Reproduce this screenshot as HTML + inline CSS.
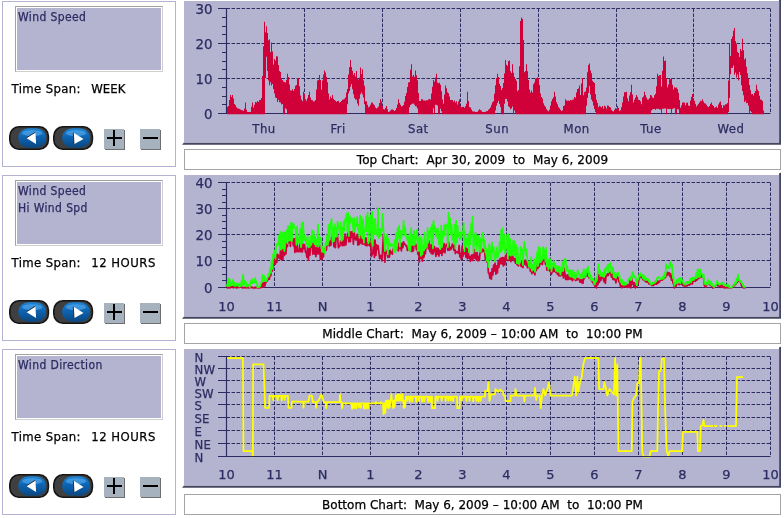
<!DOCTYPE html>
<html lang="en"><head><meta charset="utf-8"><title>Wind Charts</title>
<style>
html,body{margin:0;padding:0;background:#fff;}
body{-webkit-text-stroke:0.25px;width:784px;height:518px;position:relative;overflow:hidden;font-family:"DejaVu Sans","Liberation Sans",sans-serif;}
.lp{position:absolute;left:2px;width:172px;height:164px;border:1px solid #b2b2d2;background:#fff;}
.tb{position:absolute;left:12px;top:4px;width:144px;height:62px;background:#b4b4d0;border:1px solid #a2a2a2;box-shadow:inset 1px 1px 0 #fff, inset -1px -1px 0 #fff;border-right-color:#cfcfcf;border-bottom-color:#cfcfcf;color:#2c2c62;font:12px "DejaVu Sans Condensed","Liberation Sans",sans-serif;letter-spacing:0.38px;padding:2px 0 0 2px;line-height:17px;}
.tb div{height:17px;white-space:pre;}
.ts{position:absolute;left:8.6px;top:79px;font:13px "DejaVu Sans Condensed","Liberation Sans",sans-serif;color:#000;white-space:pre;line-height:16px;}
.tsl{position:absolute;left:0;top:0;letter-spacing:0.36px;}
.tsv{position:absolute;left:79.6px;top:0;letter-spacing:0.1px;}
.btn{position:absolute;}
.sq{position:absolute;top:127px;width:20px;height:20px;background:#a6b3bf;box-shadow:1px 1px 0 #6e6e6e;}
.sq i{position:absolute;background:#000;display:block;}
.sq .h{left:3px;top:8px;width:15px;height:2px;}
.sq .v{left:9px;top:1px;width:2px;height:16px;}
.cap{position:absolute;left:184px;width:595px;height:18px;padding-top:1px;border:1px solid #a4a4a4;background:#fff;text-align:center;font:12px "DejaVu Sans","Liberation Sans",sans-serif;color:#000;line-height:19px;white-space:pre;}
#charts{position:absolute;left:0;top:0;}
</style></head><body>
<svg width="0" height="0" style="position:absolute"><defs><linearGradient id="bg" x1="0" y1="0" x2="0" y2="1"><stop offset="0" stop-color="#1c86d8"/><stop offset="0.45" stop-color="#0d63b2"/><stop offset="1" stop-color="#0a477f"/></linearGradient></defs></svg>
<div class="lp" style="top:1px"><div class="tb"><div>Wind Speed</div></div><div class="ts"><span class="tsl">Time Span:</span><span class="tsv" style="letter-spacing:0.1px">WEEK</span></div><svg class="btn" style="left:6px;top:124px" width="42" height="26" viewBox="0 0 42 26"><rect x="0.8" y="0.8" width="38.6" height="22.4" rx="9" ry="9.5" fill="#3f3f3f" stroke="#151515" stroke-width="1.6"/><rect x="9.2" y="2.2" width="28" height="19.6" rx="10.5" ry="9.8" fill="url(#bg)"/><ellipse cx="23.2" cy="7.2" rx="10" ry="3" fill="#6ab8f5" opacity="0.5"/><path d="M17.3 11.9 L26.4 6.2 L27.1 18 Z" fill="#fff"/><path d="M17.3 11.9 L26.4 6.2" stroke="#102030" stroke-width="0.9" fill="none"/></svg><svg class="btn" style="left:50px;top:124px" width="42" height="26" viewBox="0 0 42 26"><rect x="0.8" y="0.8" width="38.6" height="22.4" rx="9" ry="9.5" fill="#3f3f3f" stroke="#151515" stroke-width="1.6"/><rect x="9" y="2.2" width="28" height="19.6" rx="10.5" ry="9.8" fill="url(#bg)"/><ellipse cx="23" cy="7.2" rx="10" ry="3" fill="#6ab8f5" opacity="0.5"/><path d="M20.3 6.5 L21 18.3 L30.5 12.9 Z" fill="#fff"/><path d="M20.3 6.5 L21 18.3" stroke="#102030" stroke-width="0.9" fill="none"/></svg><div class="sq" style="left:101px"><i class="h"></i><i class="v"></i></div><div class="sq" style="left:137px"><i class="h"></i></div></div>
<div class="lp" style="top:175px"><div class="tb"><div>Wind Speed</div><div>Hi Wind Spd</div></div><div class="ts"><span class="tsl">Time Span:</span><span class="tsv" style="letter-spacing:0.5px">12 HOURS</span></div><svg class="btn" style="left:6px;top:124px" width="42" height="26" viewBox="0 0 42 26"><rect x="0.8" y="0.8" width="38.6" height="22.4" rx="9" ry="9.5" fill="#3f3f3f" stroke="#151515" stroke-width="1.6"/><rect x="9.2" y="2.2" width="28" height="19.6" rx="10.5" ry="9.8" fill="url(#bg)"/><ellipse cx="23.2" cy="7.2" rx="10" ry="3" fill="#6ab8f5" opacity="0.5"/><path d="M17.3 11.9 L26.4 6.2 L27.1 18 Z" fill="#fff"/><path d="M17.3 11.9 L26.4 6.2" stroke="#102030" stroke-width="0.9" fill="none"/></svg><svg class="btn" style="left:50px;top:124px" width="42" height="26" viewBox="0 0 42 26"><rect x="0.8" y="0.8" width="38.6" height="22.4" rx="9" ry="9.5" fill="#3f3f3f" stroke="#151515" stroke-width="1.6"/><rect x="9" y="2.2" width="28" height="19.6" rx="10.5" ry="9.8" fill="url(#bg)"/><ellipse cx="23" cy="7.2" rx="10" ry="3" fill="#6ab8f5" opacity="0.5"/><path d="M20.3 6.5 L21 18.3 L30.5 12.9 Z" fill="#fff"/><path d="M20.3 6.5 L21 18.3" stroke="#102030" stroke-width="0.9" fill="none"/></svg><div class="sq" style="left:101px"><i class="h"></i><i class="v"></i></div><div class="sq" style="left:137px"><i class="h"></i></div></div>
<div class="lp" style="top:349px"><div class="tb"><div>Wind Direction</div></div><div class="ts"><span class="tsl">Time Span:</span><span class="tsv" style="letter-spacing:0.5px">12 HOURS</span></div><svg class="btn" style="left:6px;top:124px" width="42" height="26" viewBox="0 0 42 26"><rect x="0.8" y="0.8" width="38.6" height="22.4" rx="9" ry="9.5" fill="#3f3f3f" stroke="#151515" stroke-width="1.6"/><rect x="9.2" y="2.2" width="28" height="19.6" rx="10.5" ry="9.8" fill="url(#bg)"/><ellipse cx="23.2" cy="7.2" rx="10" ry="3" fill="#6ab8f5" opacity="0.5"/><path d="M17.3 11.9 L26.4 6.2 L27.1 18 Z" fill="#fff"/><path d="M17.3 11.9 L26.4 6.2" stroke="#102030" stroke-width="0.9" fill="none"/></svg><svg class="btn" style="left:50px;top:124px" width="42" height="26" viewBox="0 0 42 26"><rect x="0.8" y="0.8" width="38.6" height="22.4" rx="9" ry="9.5" fill="#3f3f3f" stroke="#151515" stroke-width="1.6"/><rect x="9" y="2.2" width="28" height="19.6" rx="10.5" ry="9.8" fill="url(#bg)"/><ellipse cx="23" cy="7.2" rx="10" ry="3" fill="#6ab8f5" opacity="0.5"/><path d="M20.3 6.5 L21 18.3 L30.5 12.9 Z" fill="#fff"/><path d="M20.3 6.5 L21 18.3" stroke="#102030" stroke-width="0.9" fill="none"/></svg><div class="sq" style="left:101px"><i class="h"></i><i class="v"></i></div><div class="sq" style="left:137px"><i class="h"></i></div></div>
<svg id="charts" width="784" height="518" viewBox="0 0 784 518">
<path d="M779 -0.5 L781 -1.5 L781 144.8 L182 144.8 L184 142.6 L779 142.6 Z" fill="#46465f"/>
<rect x="184" y="1" width="595.2" height="141.6" fill="#b4b4d0"/>
<line x1="226.5" x2="770.5" y1="8.5" y2="8.5" stroke="#2c2c62" stroke-width="1" stroke-dasharray="3.5 1.5"/>
<line x1="226.5" x2="770.5" y1="43.5" y2="43.5" stroke="#2c2c62" stroke-width="1" stroke-dasharray="3.5 1.5"/>
<line x1="226.5" x2="770.5" y1="78.5" y2="78.5" stroke="#2c2c62" stroke-width="1" stroke-dasharray="3.5 1.5"/>
<line x1="304.5" x2="304.5" y1="8.5" y2="113.5" stroke="#2c2c62" stroke-width="1" stroke-dasharray="3.5 1.5"/>
<line x1="382.5" x2="382.5" y1="8.5" y2="113.5" stroke="#2c2c62" stroke-width="1" stroke-dasharray="3.5 1.5"/>
<line x1="460.5" x2="460.5" y1="8.5" y2="113.5" stroke="#2c2c62" stroke-width="1" stroke-dasharray="3.5 1.5"/>
<line x1="538.5" x2="538.5" y1="8.5" y2="113.5" stroke="#2c2c62" stroke-width="1" stroke-dasharray="3.5 1.5"/>
<line x1="616.5" x2="616.5" y1="8.5" y2="113.5" stroke="#2c2c62" stroke-width="1" stroke-dasharray="3.5 1.5"/>
<line x1="693.5" x2="693.5" y1="8.5" y2="113.5" stroke="#2c2c62" stroke-width="1" stroke-dasharray="3.5 1.5"/>
<line x1="770.5" x2="770.5" y1="8.5" y2="113.5" stroke="#2c2c62" stroke-width="1" stroke-dasharray="3.5 1.5"/>
<line x1="226.5" x2="226.5" y1="8" y2="114" stroke="#2c2c62" stroke-width="1.2"/>
<line x1="226" x2="770.5" y1="113.5" y2="113.5" stroke="#2c2c62" stroke-width="1"/>
<path d="M227.0,107.0 228.0,107.0 L228.0,106.1 229.0,106.1 L229.0,100.0 230.0,100.0 L230.0,95.0 231.0,95.0 L231.0,96.9 232.0,96.9 L232.0,95.0 233.0,95.0 L233.0,98.5 234.0,98.5 L234.0,104.1 235.0,104.1 L235.0,105.2 236.0,105.2 L236.0,107.3 237.0,107.3 L237.0,108.2 238.0,108.2 L238.0,108.4 239.0,108.4 L239.0,109.0 240.0,109.0 L240.0,109.5 241.0,109.5 L241.0,110.0 242.0,110.0 L242.0,110.4 243.0,110.4 L243.0,110.7 244.0,110.7 L244.0,108.5 245.0,108.5 L245.0,102.5 246.0,102.5 L246.0,109.8 247.0,109.8 L247.0,111.9 248.0,111.9 L248.0,111.9 249.0,111.9 L249.0,111.9 250.0,111.9 L250.0,111.9 251.0,111.9 L251.0,106.8 252.0,106.8 L252.0,102.5 253.0,102.5 L253.0,107.4 254.0,107.4 L254.0,104.8 255.0,104.8 L255.0,102.1 256.0,102.1 L256.0,102.6 257.0,102.6 L257.0,101.0 258.0,101.0 L258.0,102.0 259.0,102.0 L259.0,100.0 260.0,100.0 L260.0,99.9 261.0,99.9 L261.0,98.0 262.0,98.0 L262.0,75.9 263.0,75.9 L263.0,46.3 264.0,46.3 L264.0,21.8 265.0,21.8 L265.0,32.3 266.0,32.3 L266.0,26.3 267.0,26.3 L267.0,33.1 268.0,33.1 L268.0,40.2 269.0,40.2 L269.0,39.6 270.0,39.6 L270.0,52.2 271.0,52.2 L271.0,42.4 272.0,42.4 L272.0,51.6 273.0,51.6 L273.0,64.6 274.0,64.6 L274.0,59.0 275.0,59.0 L275.0,60.5 276.0,60.5 L276.0,56.2 277.0,56.2 L277.0,56.4 278.0,56.4 L278.0,64.9 279.0,64.9 L279.0,71.1 280.0,71.1 L280.0,72.0 281.0,72.0 L281.0,77.9 282.0,77.9 L282.0,79.9 283.0,79.9 L283.0,81.6 284.0,81.6 L284.0,81.9 285.0,81.9 L285.0,82.6 286.0,82.6 L286.0,80.0 287.0,80.0 L287.0,73.8 288.0,73.8 L288.0,77.1 289.0,77.1 L289.0,84.4 290.0,84.4 L290.0,90.5 291.0,90.5 L291.0,90.6 292.0,90.6 L292.0,89.3 293.0,89.3 L293.0,91.1 294.0,91.1 L294.0,88.9 295.0,88.9 L295.0,85.8 296.0,85.8 L296.0,85.1 297.0,85.1 L297.0,78.0 298.0,78.0 L298.0,78.0 299.0,78.0 L299.0,86.2 300.0,86.2 L300.0,95.6 301.0,95.6 L301.0,99.6 302.0,99.6 L302.0,101.3 303.0,101.3 L303.0,91.8 304.0,91.8 L304.0,93.9 305.0,93.9 L305.0,99.2 306.0,99.2 L306.0,100.8 307.0,100.8 L307.0,98.2 308.0,98.2 L308.0,95.0 309.0,95.0 L309.0,91.8 310.0,91.8 L310.0,97.5 311.0,97.5 L311.0,100.1 312.0,100.1 L312.0,100.2 313.0,100.2 L313.0,101.5 314.0,101.5 L314.0,101.2 315.0,101.2 L315.0,100.0 316.0,100.0 L316.0,89.4 317.0,89.4 L317.0,80.5 318.0,80.5 L318.0,80.0 319.0,80.0 L319.0,74.9 320.0,74.9 L320.0,79.9 321.0,79.9 L321.0,89.6 322.0,89.6 L322.0,80.5 323.0,80.5 L323.0,74.4 324.0,74.4 L324.0,70.6 325.0,70.6 L325.0,72.6 326.0,72.6 L326.0,76.7 327.0,76.7 L327.0,82.3 328.0,82.3 L328.0,93.6 329.0,93.6 L329.0,99.4 330.0,99.4 L330.0,96.6 331.0,96.6 L331.0,98.0 332.0,98.0 L332.0,95.0 333.0,95.0 L333.0,98.7 334.0,98.7 L334.0,100.1 335.0,100.1 L335.0,100.7 336.0,100.7 L336.0,101.7 337.0,101.7 L337.0,101.0 338.0,101.0 L338.0,101.0 339.0,101.0 L339.0,102.7 340.0,102.7 L340.0,102.0 341.0,102.0 L341.0,101.0 342.0,101.0 L342.0,99.8 343.0,99.8 L343.0,99.4 344.0,99.4 L344.0,98.8 345.0,98.8 L345.0,97.4 346.0,97.4 L346.0,92.5 347.0,92.5 L347.0,89.0 348.0,89.0 L348.0,74.6 349.0,74.6 L349.0,67.3 350.0,67.3 L350.0,60.0 351.0,60.0 L351.0,67.0 352.0,67.0 L352.0,70.8 353.0,70.8 L353.0,74.7 354.0,74.7 L354.0,72.9 355.0,72.9 L355.0,76.4 356.0,76.4 L356.0,71.1 357.0,71.1 L357.0,78.0 358.0,78.0 L358.0,79.6 359.0,79.6 L359.0,77.4 360.0,77.4 L360.0,67.4 361.0,67.4 L361.0,73.9 362.0,73.9 L362.0,69.2 363.0,69.2 L363.0,80.2 364.0,80.2 L364.0,85.7 365.0,85.7 L365.0,101.3 366.0,101.3 L366.0,101.3 367.0,101.3 L367.0,104.7 368.0,104.7 L368.0,107.2 369.0,107.2 L369.0,106.5 370.0,106.5 L370.0,104.7 371.0,104.7 L371.0,102.5 372.0,102.5 L372.0,102.7 373.0,102.7 L373.0,104.3 374.0,104.3 L374.0,105.2 375.0,105.2 L375.0,107.6 376.0,107.6 L376.0,108.4 377.0,108.4 L377.0,107.8 378.0,107.8 L378.0,106.5 379.0,106.5 L379.0,103.0 380.0,103.0 L380.0,99.3 381.0,99.3 L381.0,101.6 382.0,101.6 L382.0,105.7 383.0,105.7 L383.0,108.9 384.0,108.9 L384.0,109.4 385.0,109.4 L385.0,108.1 386.0,108.1 L386.0,106.1 387.0,106.1 L387.0,109.2 388.0,109.2 L388.0,111.9 389.0,111.9 L389.0,111.5 390.0,111.5 L390.0,110.6 391.0,110.6 L391.0,109.6 392.0,109.6 L392.0,109.4 393.0,109.4 L393.0,110.0 394.0,110.0 L394.0,110.9 395.0,110.9 L395.0,110.1 396.0,110.1 L396.0,108.1 397.0,108.1 L397.0,104.6 398.0,104.6 L398.0,99.3 399.0,99.3 L399.0,102.9 400.0,102.9 L400.0,104.8 401.0,104.8 L401.0,106.6 402.0,106.6 L402.0,106.1 403.0,106.1 L403.0,104.9 404.0,104.9 L404.0,101.7 405.0,101.7 L405.0,95.9 406.0,95.9 L406.0,93.1 407.0,93.1 L407.0,87.0 408.0,87.0 L408.0,82.5 409.0,82.5 L409.0,81.9 410.0,81.9 L410.0,69.7 411.0,69.7 L411.0,64.2 412.0,64.2 L412.0,76.6 413.0,76.6 L413.0,74.7 414.0,74.7 L414.0,77.0 415.0,77.0 L415.0,70.4 416.0,70.4 L416.0,75.3 417.0,75.3 L417.0,80.3 418.0,80.3 L418.0,93.1 419.0,93.1 L419.0,100.9 420.0,100.9 L420.0,100.9 421.0,100.9 L421.0,99.2 422.0,99.2 L422.0,99.3 423.0,99.3 L423.0,100.5 424.0,100.5 L424.0,100.5 425.0,100.5 L425.0,100.7 426.0,100.7 L426.0,100.2 427.0,100.2 L427.0,100.3 428.0,100.3 L428.0,99.4 429.0,99.4 L429.0,99.0 430.0,99.0 L430.0,99.4 431.0,99.4 L431.0,93.6 432.0,93.6 L432.0,86.8 433.0,86.8 L433.0,79.9 434.0,79.9 L434.0,81.7 435.0,81.7 L435.0,77.6 436.0,77.6 L436.0,73.8 437.0,73.8 L437.0,82.5 438.0,82.5 L438.0,83.3 439.0,83.3 L439.0,82.7 440.0,82.7 L440.0,84.8 441.0,84.8 L441.0,91.3 442.0,91.3 L442.0,99.5 443.0,99.5 L443.0,103.7 444.0,103.7 L444.0,94.4 445.0,94.4 L445.0,85.5 446.0,85.5 L446.0,88.3 447.0,88.3 L447.0,92.2 448.0,92.2 L448.0,93.2 449.0,93.2 L449.0,96.5 450.0,96.5 L450.0,100.1 451.0,100.1 L451.0,99.9 452.0,99.9 L452.0,100.0 453.0,100.0 L453.0,101.8 454.0,101.8 L454.0,100.6 455.0,100.6 L455.0,102.4 456.0,102.4 L456.0,101.2 457.0,101.2 L457.0,104.6 458.0,104.6 L458.0,101.6 459.0,101.6 L459.0,99.3 460.0,99.3 L460.0,105.9 461.0,105.9 L461.0,107.2 462.0,107.2 L462.0,106.9 463.0,106.9 L463.0,106.7 464.0,106.7 L464.0,107.8 465.0,107.8 L465.0,106.2 466.0,106.2 L466.0,103.8 467.0,103.8 L467.0,91.8 468.0,91.8 L468.0,101.0 469.0,101.0 L469.0,106.9 470.0,106.9 L470.0,107.6 471.0,107.6 L471.0,109.4 472.0,109.4 L472.0,111.3 473.0,111.3 L473.0,111.5 474.0,111.5 L474.0,111.6 475.0,111.6 L475.0,111.9 476.0,111.9 L476.0,111.9 477.0,111.9 L477.0,111.8 478.0,111.8 L478.0,110.6 479.0,110.6 L479.0,109.3 480.0,109.3 L480.0,109.9 481.0,109.9 L481.0,110.7 482.0,110.7 L482.0,111.9 483.0,111.9 L483.0,111.9 484.0,111.9 L484.0,111.9 485.0,111.9 L485.0,111.8 486.0,111.8 L486.0,111.2 487.0,111.2 L487.0,110.9 488.0,110.9 L488.0,109.7 489.0,109.7 L489.0,108.7 490.0,108.7 L490.0,107.5 491.0,107.5 L491.0,104.7 492.0,104.7 L492.0,102.2 493.0,102.2 L493.0,101.3 494.0,101.3 L494.0,93.7 495.0,93.7 L495.0,85.3 496.0,85.3 L496.0,78.1 497.0,78.1 L497.0,73.8 498.0,73.8 L498.0,77.0 499.0,77.0 L499.0,83.7 500.0,83.7 L500.0,85.9 501.0,85.9 L501.0,89.9 502.0,89.9 L502.0,88.0 503.0,88.0 L503.0,82.9 504.0,82.9 L504.0,73.4 505.0,73.4 L505.0,60.0 506.0,60.0 L506.0,64.7 507.0,64.7 L507.0,65.8 508.0,65.8 L508.0,61.1 509.0,61.1 L509.0,60.6 510.0,60.6 L510.0,71.2 511.0,71.2 L511.0,73.1 512.0,73.1 L512.0,64.2 513.0,64.2 L513.0,72.8 514.0,72.8 L514.0,76.9 515.0,76.9 L515.0,79.0 516.0,79.0 L516.0,80.8 517.0,80.8 L517.0,91.2 518.0,91.2 L518.0,90.0 519.0,90.0 L519.0,66.3 520.0,66.3 L520.0,20.9 521.0,20.9 L521.0,17.5 522.0,17.5 L522.0,19.1 523.0,19.1 L523.0,39.9 524.0,39.9 L524.0,72.2 525.0,72.2 L525.0,70.9 526.0,70.9 L526.0,64.2 527.0,64.2 L527.0,71.3 528.0,71.3 L528.0,79.9 529.0,79.9 L529.0,89.4 530.0,89.4 L530.0,92.6 531.0,92.6 L531.0,90.4 532.0,90.4 L532.0,92.5 533.0,92.5 L533.0,84.2 534.0,84.2 L534.0,82.4 535.0,82.4 L535.0,78.5 536.0,78.5 L536.0,78.1 537.0,78.1 L537.0,77.5 538.0,77.5 L538.0,78.0 539.0,78.0 L539.0,84.9 540.0,84.9 L540.0,93.4 541.0,93.4 L541.0,97.1 542.0,97.1 L542.0,98.4 543.0,98.4 L543.0,103.3 544.0,103.3 L544.0,105.4 545.0,105.4 L545.0,106.7 546.0,106.7 L546.0,109.1 547.0,109.1 L547.0,110.5 548.0,110.5 L548.0,111.2 549.0,111.2 L549.0,109.8 550.0,109.8 L550.0,105.6 551.0,105.6 L551.0,101.2 552.0,101.2 L552.0,99.0 553.0,99.0 L553.0,97.2 554.0,97.2 L554.0,91.8 555.0,91.8 L555.0,96.4 556.0,96.4 L556.0,102.0 557.0,102.0 L557.0,104.2 558.0,104.2 L558.0,107.0 559.0,107.0 L559.0,108.2 560.0,108.2 L560.0,109.7 561.0,109.7 L561.0,111.0 562.0,111.0 L562.0,110.3 563.0,110.3 L563.0,106.1 564.0,106.1 L564.0,105.5 565.0,105.5 L565.0,99.3 566.0,99.3 L566.0,100.6 567.0,100.6 L567.0,100.7 568.0,100.7 L568.0,100.4 569.0,100.4 L569.0,101.0 570.0,101.0 L570.0,100.1 571.0,100.1 L571.0,100.3 572.0,100.3 L572.0,99.8 573.0,99.8 L573.0,99.4 574.0,99.4 L574.0,97.0 575.0,97.0 L575.0,97.7 576.0,97.7 L576.0,92.6 577.0,92.6 L577.0,89.1 578.0,89.1 L578.0,88.6 579.0,88.6 L579.0,85.5 580.0,85.5 L580.0,95.1 581.0,95.1 L581.0,83.5 582.0,83.5 L582.0,78.0 583.0,78.0 L583.0,95.3 584.0,95.3 L584.0,92.0 585.0,92.0 L585.0,91.5 586.0,91.5 L586.0,87.6 587.0,87.6 L587.0,72.2 588.0,72.2 L588.0,65.0 589.0,65.0 L589.0,63.6 590.0,63.6 L590.0,70.5 591.0,70.5 L591.0,73.3 592.0,73.3 L592.0,80.7 593.0,80.7 L593.0,82.1 594.0,82.1 L594.0,82.9 595.0,82.9 L595.0,93.9 596.0,93.9 L596.0,99.8 597.0,99.8 L597.0,103.0 598.0,103.0 L598.0,107.2 599.0,107.2 L599.0,105.8 600.0,105.8 L600.0,106.5 601.0,106.5 L601.0,107.2 602.0,107.2 L602.0,106.1 603.0,106.1 L603.0,108.6 604.0,108.6 L604.0,105.8 605.0,105.8 L605.0,106.4 606.0,106.4 L606.0,108.6 607.0,108.6 L607.0,105.6 608.0,105.6 L608.0,105.7 609.0,105.7 L609.0,106.9 610.0,106.9 L610.0,107.4 611.0,107.4 L611.0,109.7 612.0,109.7 L612.0,111.0 613.0,111.0 L613.0,111.4 614.0,111.4 L614.0,109.7 615.0,109.7 L615.0,108.3 616.0,108.3 L616.0,109.0 617.0,109.0 L617.0,106.1 618.0,106.1 L618.0,107.9 619.0,107.9 L619.0,110.9 620.0,110.9 L620.0,110.3 621.0,110.3 L621.0,107.3 622.0,107.3 L622.0,102.6 623.0,102.6 L623.0,96.4 624.0,96.4 L624.0,92.3 625.0,92.3 L625.0,92.2 626.0,92.2 L626.0,91.8 627.0,91.8 L627.0,98.2 628.0,98.2 L628.0,101.3 629.0,101.3 L629.0,95.4 630.0,95.4 L630.0,92.2 631.0,92.2 L631.0,84.8 632.0,84.8 L632.0,94.4 633.0,94.4 L633.0,102.4 634.0,102.4 L634.0,99.8 635.0,99.8 L635.0,97.4 636.0,97.4 L636.0,95.0 637.0,95.0 L637.0,96.7 638.0,96.7 L638.0,99.7 639.0,99.7 L639.0,100.1 640.0,100.1 L640.0,101.2 641.0,101.2 L641.0,104.3 642.0,104.3 L642.0,97.6 643.0,97.6 L643.0,96.5 644.0,96.5 L644.0,91.8 645.0,91.8 L645.0,94.9 646.0,94.9 L646.0,97.6 647.0,97.6 L647.0,99.6 648.0,99.6 L648.0,99.5 649.0,99.5 L649.0,98.2 650.0,98.2 L650.0,95.0 651.0,95.0 L651.0,95.4 652.0,95.4 L652.0,97.5 653.0,97.5 L653.0,98.1 654.0,98.1 L654.0,95.2 655.0,95.2 L655.0,93.7 656.0,93.7 L656.0,86.2 657.0,86.2 L657.0,73.8 658.0,73.8 L658.0,75.9 659.0,75.9 L659.0,75.2 660.0,75.2 L660.0,75.1 661.0,75.1 L661.0,86.4 662.0,86.4 L662.0,70.8 663.0,70.8 L663.0,56.4 664.0,56.4 L664.0,60.9 665.0,60.9 L665.0,60.6 666.0,60.6 L666.0,78.1 667.0,78.1 L667.0,87.2 668.0,87.2 L668.0,84.5 669.0,84.5 L669.0,79.3 670.0,79.3 L670.0,79.1 671.0,79.1 L671.0,78.0 672.0,78.0 L672.0,84.7 673.0,84.7 L673.0,89.6 674.0,89.6 L674.0,87.3 675.0,87.3 L675.0,87.8 676.0,87.8 L676.0,87.4 677.0,87.4 L677.0,89.1 678.0,89.1 L678.0,92.7 679.0,92.7 L679.0,100.1 680.0,100.1 L680.0,107.8 681.0,107.8 L681.0,105.5 682.0,105.5 L682.0,102.5 683.0,102.5 L683.0,102.5 684.0,102.5 L684.0,102.6 685.0,102.6 L685.0,105.3 686.0,105.3 L686.0,103.0 687.0,103.0 L687.0,102.5 688.0,102.5 L688.0,105.6 689.0,105.6 L689.0,106.0 690.0,106.0 L690.0,100.5 691.0,100.5 L691.0,96.7 692.0,96.7 L692.0,94.0 693.0,94.0 L693.0,98.3 694.0,98.3 L694.0,100.7 695.0,100.7 L695.0,103.8 696.0,103.8 L696.0,106.4 697.0,106.4 L697.0,105.2 698.0,105.2 L698.0,103.7 699.0,103.7 L699.0,102.5 700.0,102.5 L700.0,100.8 701.0,100.8 L701.0,101.0 702.0,101.0 L702.0,99.3 703.0,99.3 L703.0,101.6 704.0,101.6 L704.0,103.3 705.0,103.3 L705.0,103.6 706.0,103.6 L706.0,104.8 707.0,104.8 L707.0,106.4 708.0,106.4 L708.0,107.1 709.0,107.1 L709.0,105.9 710.0,105.9 L710.0,104.0 711.0,104.0 L711.0,102.5 712.0,102.5 L712.0,104.9 713.0,104.9 L713.0,105.9 714.0,105.9 L714.0,107.7 715.0,107.7 L715.0,107.3 716.0,107.3 L716.0,106.6 717.0,106.6 L717.0,108.1 718.0,108.1 L718.0,104.5 719.0,104.5 L719.0,102.4 720.0,102.4 L720.0,101.4 721.0,101.4 L721.0,105.1 722.0,105.1 L722.0,108.1 723.0,108.1 L723.0,105.3 724.0,105.3 L724.0,105.4 725.0,105.4 L725.0,104.3 726.0,104.3 L726.0,104.3 727.0,104.3 L727.0,103.1 728.0,103.1 L728.0,80.6 729.0,80.6 L729.0,43.2 730.0,43.2 L730.0,56.1 731.0,56.1 L731.0,38.9 732.0,38.9 L732.0,36.4 733.0,36.4 L733.0,30.8 734.0,30.8 L734.0,28.1 735.0,28.1 L735.0,40.9 736.0,40.9 L736.0,44.0 737.0,44.0 L737.0,51.8 738.0,51.8 L738.0,53.1 739.0,53.1 L739.0,56.9 740.0,56.9 L740.0,49.0 741.0,49.0 L741.0,50.9 742.0,50.9 L742.0,38.8 743.0,38.8 L743.0,50.3 744.0,50.3 L744.0,59.5 745.0,59.5 L745.0,58.3 746.0,58.3 L746.0,66.8 747.0,66.8 L747.0,73.3 748.0,73.3 L748.0,78.4 749.0,78.4 L749.0,85.0 750.0,85.0 L750.0,90.0 751.0,90.0 L751.0,94.3 752.0,94.3 L752.0,94.1 753.0,94.1 L753.0,95.5 754.0,95.5 L754.0,92.9 755.0,92.9 L755.0,91.0 756.0,91.0 L756.0,84.8 757.0,84.8 L757.0,89.4 758.0,89.4 L758.0,91.0 759.0,91.0 L759.0,95.7 760.0,95.7 L760.0,99.6 761.0,99.6 L761.0,99.7 762.0,99.7 L762.0,100.9 763.0,100.9 L763.0,110.6 764.0,110.6 L764.0,114.2 763.0,114.2 L763.0,114.2 762.0,114.2 L762.0,114.2 761.0,114.2 L761.0,114.2 760.0,114.2 L760.0,114.2 759.0,114.2 L759.0,114.2 758.0,114.2 L758.0,114.2 757.0,114.2 L757.0,114.2 756.0,114.2 L756.0,114.2 755.0,114.2 L755.0,114.2 754.0,114.2 L754.0,114.2 753.0,114.2 L753.0,114.2 752.0,114.2 L752.0,112.3 751.0,112.3 L751.0,111.1 750.0,111.1 L750.0,114.2 749.0,114.2 L749.0,105.7 748.0,105.7 L748.0,103.1 747.0,103.1 L747.0,103.3 746.0,103.3 L746.0,100.7 745.0,100.7 L745.0,101.9 744.0,101.9 L744.0,95.3 743.0,95.3 L743.0,90.9 742.0,90.9 L742.0,85.3 741.0,85.3 L741.0,74.9 740.0,74.9 L740.0,72.0 739.0,72.0 L739.0,80.5 738.0,80.5 L738.0,74.5 737.0,74.5 L737.0,77.4 736.0,77.4 L736.0,72.5 735.0,72.5 L735.0,74.7 734.0,74.7 L734.0,65.5 733.0,65.5 L733.0,67.7 732.0,67.7 L732.0,67.9 731.0,67.9 L731.0,74.2 730.0,74.2 L730.0,98.0 729.0,98.0 L729.0,111.9 728.0,111.9 L728.0,114.2 727.0,114.2 L727.0,114.2 726.0,114.2 L726.0,114.2 725.0,114.2 L725.0,114.2 724.0,114.2 L724.0,114.2 723.0,114.2 L723.0,114.2 722.0,114.2 L722.0,114.2 721.0,114.2 L721.0,114.2 720.0,114.2 L720.0,114.2 719.0,114.2 L719.0,114.2 718.0,114.2 L718.0,114.2 717.0,114.2 L717.0,114.2 716.0,114.2 L716.0,114.2 715.0,114.2 L715.0,114.2 714.0,114.2 L714.0,114.2 713.0,114.2 L713.0,114.2 712.0,114.2 L712.0,114.2 711.0,114.2 L711.0,114.2 710.0,114.2 L710.0,114.2 709.0,114.2 L709.0,114.2 708.0,114.2 L708.0,114.2 707.0,114.2 L707.0,114.2 706.0,114.2 L706.0,114.2 705.0,114.2 L705.0,114.2 704.0,114.2 L704.0,114.2 703.0,114.2 L703.0,114.2 702.0,114.2 L702.0,114.2 701.0,114.2 L701.0,114.2 700.0,114.2 L700.0,114.2 699.0,114.2 L699.0,114.2 698.0,114.2 L698.0,114.2 697.0,114.2 L697.0,114.2 696.0,114.2 L696.0,114.2 695.0,114.2 L695.0,114.2 694.0,114.2 L694.0,114.2 693.0,114.2 L693.0,114.2 692.0,114.2 L692.0,114.2 691.0,114.2 L691.0,114.2 690.0,114.2 L690.0,114.2 689.0,114.2 L689.0,114.2 688.0,114.2 L688.0,114.2 687.0,114.2 L687.0,114.2 686.0,114.2 L686.0,114.2 685.0,114.2 L685.0,114.2 684.0,114.2 L684.0,114.2 683.0,114.2 L683.0,114.2 682.0,114.2 L682.0,114.2 681.0,114.2 L681.0,114.2 680.0,114.2 L680.0,114.2 679.0,114.2 L679.0,109.4 678.0,109.4 L678.0,109.0 677.0,109.0 L677.0,114.2 676.0,114.2 L676.0,114.2 675.0,114.2 L675.0,108.2 674.0,108.2 L674.0,108.2 673.0,108.2 L673.0,108.9 672.0,108.9 L672.0,114.2 671.0,114.2 L671.0,109.1 670.0,109.1 L670.0,109.0 669.0,109.0 L669.0,109.1 668.0,109.1 L668.0,108.7 667.0,108.7 L667.0,114.2 666.0,114.2 L666.0,108.6 665.0,108.6 L665.0,108.6 664.0,108.6 L664.0,108.7 663.0,108.7 L663.0,108.8 662.0,108.8 L662.0,114.2 661.0,114.2 L661.0,109.5 660.0,109.5 L660.0,109.5 659.0,109.5 L659.0,108.8 658.0,108.8 L658.0,109.1 657.0,109.1 L657.0,108.7 656.0,108.7 L656.0,109.8 655.0,109.8 L655.0,109.0 654.0,109.0 L654.0,109.1 653.0,109.1 L653.0,109.4 652.0,109.4 L652.0,110.6 651.0,110.6 L651.0,114.2 650.0,114.2 L650.0,114.2 649.0,114.2 L649.0,114.2 648.0,114.2 L648.0,114.2 647.0,114.2 L647.0,114.2 646.0,114.2 L646.0,114.2 645.0,114.2 L645.0,114.2 644.0,114.2 L644.0,114.2 643.0,114.2 L643.0,114.2 642.0,114.2 L642.0,114.2 641.0,114.2 L641.0,114.2 640.0,114.2 L640.0,114.2 639.0,114.2 L639.0,114.2 638.0,114.2 L638.0,114.2 637.0,114.2 L637.0,114.2 636.0,114.2 L636.0,114.2 635.0,114.2 L635.0,114.2 634.0,114.2 L634.0,114.2 633.0,114.2 L633.0,114.2 632.0,114.2 L632.0,114.2 631.0,114.2 L631.0,114.2 630.0,114.2 L630.0,114.2 629.0,114.2 L629.0,114.2 628.0,114.2 L628.0,114.2 627.0,114.2 L627.0,114.2 626.0,114.2 L626.0,114.2 625.0,114.2 L625.0,114.2 624.0,114.2 L624.0,114.2 623.0,114.2 L623.0,114.2 622.0,114.2 L622.0,114.2 621.0,114.2 L621.0,114.2 620.0,114.2 L620.0,114.2 619.0,114.2 L619.0,114.2 618.0,114.2 L618.0,114.2 617.0,114.2 L617.0,114.2 616.0,114.2 L616.0,114.2 615.0,114.2 L615.0,114.2 614.0,114.2 L614.0,114.2 613.0,114.2 L613.0,114.2 612.0,114.2 L612.0,114.2 611.0,114.2 L611.0,114.2 610.0,114.2 L610.0,114.2 609.0,114.2 L609.0,114.2 608.0,114.2 L608.0,114.2 607.0,114.2 L607.0,114.2 606.0,114.2 L606.0,114.2 605.0,114.2 L605.0,114.2 604.0,114.2 L604.0,114.2 603.0,114.2 L603.0,114.2 602.0,114.2 L602.0,114.2 601.0,114.2 L601.0,114.2 600.0,114.2 L600.0,114.2 599.0,114.2 L599.0,114.2 598.0,114.2 L598.0,114.2 597.0,114.2 L597.0,114.2 596.0,114.2 L596.0,112.0 595.0,112.0 L595.0,108.9 594.0,108.9 L594.0,105.6 593.0,105.6 L593.0,101.4 592.0,101.4 L592.0,99.5 591.0,99.5 L591.0,94.4 590.0,94.4 L590.0,86.1 589.0,86.1 L589.0,92.9 588.0,92.9 L588.0,98.1 587.0,98.1 L587.0,105.8 586.0,105.8 L586.0,114.2 585.0,114.2 L585.0,114.2 584.0,114.2 L584.0,114.2 583.0,114.2 L583.0,114.2 582.0,114.2 L582.0,114.2 581.0,114.2 L581.0,114.2 580.0,114.2 L580.0,114.2 579.0,114.2 L579.0,114.2 578.0,114.2 L578.0,114.2 577.0,114.2 L577.0,114.2 576.0,114.2 L576.0,114.2 575.0,114.2 L575.0,114.2 574.0,114.2 L574.0,114.2 573.0,114.2 L573.0,114.2 572.0,114.2 L572.0,114.2 571.0,114.2 L571.0,114.2 570.0,114.2 L570.0,114.2 569.0,114.2 L569.0,114.2 568.0,114.2 L568.0,114.2 567.0,114.2 L567.0,114.2 566.0,114.2 L566.0,114.2 565.0,114.2 L565.0,114.2 564.0,114.2 L564.0,114.2 563.0,114.2 L563.0,114.2 562.0,114.2 L562.0,114.2 561.0,114.2 L561.0,114.2 560.0,114.2 L560.0,114.2 559.0,114.2 L559.0,114.2 558.0,114.2 L558.0,114.2 557.0,114.2 L557.0,114.2 556.0,114.2 L556.0,114.2 555.0,114.2 L555.0,114.2 554.0,114.2 L554.0,114.2 553.0,114.2 L553.0,114.2 552.0,114.2 L552.0,114.2 551.0,114.2 L551.0,114.2 550.0,114.2 L550.0,114.2 549.0,114.2 L549.0,114.2 548.0,114.2 L548.0,114.2 547.0,114.2 L547.0,114.2 546.0,114.2 L546.0,114.2 545.0,114.2 L545.0,114.2 544.0,114.2 L544.0,114.2 543.0,114.2 L543.0,114.2 542.0,114.2 L542.0,114.2 541.0,114.2 L541.0,114.2 540.0,114.2 L540.0,114.2 539.0,114.2 L539.0,114.2 538.0,114.2 L538.0,114.2 537.0,114.2 L537.0,114.2 536.0,114.2 L536.0,114.2 535.0,114.2 L535.0,114.2 534.0,114.2 L534.0,114.2 533.0,114.2 L533.0,114.2 532.0,114.2 L532.0,114.2 531.0,114.2 L531.0,114.2 530.0,114.2 L530.0,114.2 529.0,114.2 L529.0,114.2 528.0,114.2 L528.0,114.2 527.0,114.2 L527.0,114.2 526.0,114.2 L526.0,114.2 525.0,114.2 L525.0,114.2 524.0,114.2 L524.0,114.2 523.0,114.2 L523.0,114.2 522.0,114.2 L522.0,114.2 521.0,114.2 L521.0,114.2 520.0,114.2 L520.0,114.2 519.0,114.2 L519.0,114.2 518.0,114.2 L518.0,114.2 517.0,114.2 L517.0,114.2 516.0,114.2 L516.0,112.7 515.0,112.7 L515.0,110.4 514.0,110.4 L514.0,114.2 513.0,114.2 L513.0,106.4 512.0,106.4 L512.0,108.4 511.0,108.4 L511.0,109.2 510.0,109.2 L510.0,107.3 509.0,107.3 L509.0,106.2 508.0,106.2 L508.0,101.5 507.0,101.5 L507.0,99.0 506.0,99.0 L506.0,98.9 505.0,98.9 L505.0,103.7 504.0,103.7 L504.0,114.2 503.0,114.2 L503.0,114.2 502.0,114.2 L502.0,114.2 501.0,114.2 L501.0,106.9 500.0,106.9 L500.0,104.0 499.0,104.0 L499.0,101.1 498.0,101.1 L498.0,102.9 497.0,102.9 L497.0,105.8 496.0,105.8 L496.0,110.6 495.0,110.6 L495.0,114.2 494.0,114.2 L494.0,114.2 493.0,114.2 L493.0,114.2 492.0,114.2 L492.0,114.2 491.0,114.2 L491.0,114.2 490.0,114.2 L490.0,114.2 489.0,114.2 L489.0,114.2 488.0,114.2 L488.0,114.2 487.0,114.2 L487.0,114.2 486.0,114.2 L486.0,114.2 485.0,114.2 L485.0,114.2 484.0,114.2 L484.0,114.2 483.0,114.2 L483.0,114.2 482.0,114.2 L482.0,114.2 481.0,114.2 L481.0,114.2 480.0,114.2 L480.0,114.2 479.0,114.2 L479.0,114.2 478.0,114.2 L478.0,114.2 477.0,114.2 L477.0,114.2 476.0,114.2 L476.0,114.2 475.0,114.2 L475.0,114.2 474.0,114.2 L474.0,114.2 473.0,114.2 L473.0,114.2 472.0,114.2 L472.0,114.2 471.0,114.2 L471.0,114.2 470.0,114.2 L470.0,114.2 469.0,114.2 L469.0,114.2 468.0,114.2 L468.0,114.2 467.0,114.2 L467.0,114.2 466.0,114.2 L466.0,114.2 465.0,114.2 L465.0,114.2 464.0,114.2 L464.0,114.2 463.0,114.2 L463.0,114.2 462.0,114.2 L462.0,114.2 461.0,114.2 L461.0,114.2 460.0,114.2 L460.0,114.2 459.0,114.2 L459.0,114.2 458.0,114.2 L458.0,114.2 457.0,114.2 L457.0,114.2 456.0,114.2 L456.0,114.2 455.0,114.2 L455.0,114.2 454.0,114.2 L454.0,114.2 453.0,114.2 L453.0,114.2 452.0,114.2 L452.0,114.2 451.0,114.2 L451.0,114.2 450.0,114.2 L450.0,114.2 449.0,114.2 L449.0,114.2 448.0,114.2 L448.0,114.2 447.0,114.2 L447.0,114.2 446.0,114.2 L446.0,114.2 445.0,114.2 L445.0,114.2 444.0,114.2 L444.0,114.2 443.0,114.2 L443.0,114.2 442.0,114.2 L442.0,111.3 441.0,111.3 L441.0,108.7 440.0,108.7 L440.0,114.2 439.0,114.2 L439.0,114.2 438.0,114.2 L438.0,105.6 437.0,105.6 L437.0,105.0 436.0,105.0 L436.0,104.8 435.0,104.8 L435.0,114.2 434.0,114.2 L434.0,108.2 433.0,108.2 L433.0,114.2 432.0,114.2 L432.0,114.2 431.0,114.2 L431.0,114.2 430.0,114.2 L430.0,114.2 429.0,114.2 L429.0,114.2 428.0,114.2 L428.0,114.2 427.0,114.2 L427.0,114.2 426.0,114.2 L426.0,114.2 425.0,114.2 L425.0,114.2 424.0,114.2 L424.0,114.2 423.0,114.2 L423.0,114.2 422.0,114.2 L422.0,114.2 421.0,114.2 L421.0,114.2 420.0,114.2 L420.0,114.2 419.0,114.2 L419.0,114.2 418.0,114.2 L418.0,108.4 417.0,108.4 L417.0,106.4 416.0,106.4 L416.0,106.3 415.0,106.3 L415.0,104.8 414.0,104.8 L414.0,103.6 413.0,103.6 L413.0,103.8 412.0,103.8 L412.0,104.3 411.0,104.3 L411.0,105.1 410.0,105.1 L410.0,107.3 409.0,107.3 L409.0,114.2 408.0,114.2 L408.0,114.2 407.0,114.2 L407.0,114.2 406.0,114.2 L406.0,114.2 405.0,114.2 L405.0,114.2 404.0,114.2 L404.0,114.2 403.0,114.2 L403.0,114.2 402.0,114.2 L402.0,114.2 401.0,114.2 L401.0,114.2 400.0,114.2 L400.0,114.2 399.0,114.2 L399.0,114.2 398.0,114.2 L398.0,114.2 397.0,114.2 L397.0,114.2 396.0,114.2 L396.0,114.2 395.0,114.2 L395.0,114.2 394.0,114.2 L394.0,114.2 393.0,114.2 L393.0,114.2 392.0,114.2 L392.0,114.2 391.0,114.2 L391.0,114.2 390.0,114.2 L390.0,114.2 389.0,114.2 L389.0,114.2 388.0,114.2 L388.0,114.2 387.0,114.2 L387.0,114.2 386.0,114.2 L386.0,114.2 385.0,114.2 L385.0,114.2 384.0,114.2 L384.0,114.2 383.0,114.2 L383.0,114.2 382.0,114.2 L382.0,114.2 381.0,114.2 L381.0,114.2 380.0,114.2 L380.0,114.2 379.0,114.2 L379.0,114.2 378.0,114.2 L378.0,114.2 377.0,114.2 L377.0,114.2 376.0,114.2 L376.0,114.2 375.0,114.2 L375.0,114.2 374.0,114.2 L374.0,114.2 373.0,114.2 L373.0,114.2 372.0,114.2 L372.0,114.2 371.0,114.2 L371.0,114.2 370.0,114.2 L370.0,114.2 369.0,114.2 L369.0,114.2 368.0,114.2 L368.0,114.2 367.0,114.2 L367.0,114.2 366.0,114.2 L366.0,114.2 365.0,114.2 L365.0,104.3 364.0,104.3 L364.0,97.4 363.0,97.4 L363.0,94.5 362.0,94.5 L362.0,92.4 361.0,92.4 L361.0,94.2 360.0,94.2 L360.0,98.7 359.0,98.7 L359.0,105.8 358.0,105.8 L358.0,103.6 357.0,103.6 L357.0,99.4 356.0,99.4 L356.0,99.7 355.0,99.7 L355.0,98.0 354.0,98.0 L354.0,94.3 353.0,94.3 L353.0,89.2 352.0,89.2 L352.0,84.1 351.0,84.1 L351.0,86.7 350.0,86.7 L350.0,90.9 349.0,90.9 L349.0,93.4 348.0,93.4 L348.0,104.2 347.0,104.2 L347.0,114.2 346.0,114.2 L346.0,114.2 345.0,114.2 L345.0,114.2 344.0,114.2 L344.0,114.2 343.0,114.2 L343.0,114.2 342.0,114.2 L342.0,114.2 341.0,114.2 L341.0,114.2 340.0,114.2 L340.0,114.2 339.0,114.2 L339.0,114.2 338.0,114.2 L338.0,114.2 337.0,114.2 L337.0,114.2 336.0,114.2 L336.0,114.2 335.0,114.2 L335.0,114.2 334.0,114.2 L334.0,114.2 333.0,114.2 L333.0,114.2 332.0,114.2 L332.0,114.2 331.0,114.2 L331.0,114.2 330.0,114.2 L330.0,114.2 329.0,114.2 L329.0,114.2 328.0,114.2 L328.0,114.2 327.0,114.2 L327.0,114.2 326.0,114.2 L326.0,114.2 325.0,114.2 L325.0,114.2 324.0,114.2 L324.0,114.2 323.0,114.2 L323.0,114.2 322.0,114.2 L322.0,114.2 321.0,114.2 L321.0,114.2 320.0,114.2 L320.0,114.2 319.0,114.2 L319.0,114.2 318.0,114.2 L318.0,114.2 317.0,114.2 L317.0,114.2 316.0,114.2 L316.0,114.2 315.0,114.2 L315.0,114.2 314.0,114.2 L314.0,114.2 313.0,114.2 L313.0,114.2 312.0,114.2 L312.0,114.2 311.0,114.2 L311.0,114.2 310.0,114.2 L310.0,114.2 309.0,114.2 L309.0,114.2 308.0,114.2 L308.0,114.2 307.0,114.2 L307.0,114.2 306.0,114.2 L306.0,114.2 305.0,114.2 L305.0,114.2 304.0,114.2 L304.0,114.2 303.0,114.2 L303.0,114.2 302.0,114.2 L302.0,114.2 301.0,114.2 L301.0,114.2 300.0,114.2 L300.0,114.2 299.0,114.2 L299.0,114.2 298.0,114.2 L298.0,114.2 297.0,114.2 L297.0,114.2 296.0,114.2 L296.0,114.2 295.0,114.2 L295.0,114.2 294.0,114.2 L294.0,114.2 293.0,114.2 L293.0,114.2 292.0,114.2 L292.0,114.2 291.0,114.2 L291.0,114.2 290.0,114.2 L290.0,114.2 289.0,114.2 L289.0,114.2 288.0,114.2 L288.0,114.2 287.0,114.2 L287.0,109.2 286.0,109.2 L286.0,108.2 285.0,108.2 L285.0,114.2 284.0,114.2 L284.0,114.2 283.0,114.2 L283.0,104.1 282.0,104.1 L282.0,104.4 281.0,104.4 L281.0,102.5 280.0,102.5 L280.0,102.2 279.0,102.2 L279.0,99.8 278.0,99.8 L278.0,101.9 277.0,101.9 L277.0,98.0 276.0,98.0 L276.0,97.5 275.0,97.5 L275.0,93.4 274.0,93.4 L274.0,89.0 273.0,89.0 L273.0,84.1 272.0,84.1 L272.0,85.5 271.0,85.5 L271.0,82.2 270.0,82.2 L270.0,85.2 269.0,85.2 L269.0,80.5 268.0,80.5 L268.0,71.0 267.0,71.0 L267.0,56.7 266.0,56.7 L266.0,78.1 265.0,78.1 L265.0,114.2 264.0,114.2 L264.0,114.2 263.0,114.2 L263.0,114.2 262.0,114.2 L262.0,114.2 261.0,114.2 L261.0,114.2 260.0,114.2 L260.0,114.2 259.0,114.2 L259.0,114.2 258.0,114.2 L258.0,114.2 257.0,114.2 L257.0,114.2 256.0,114.2 L256.0,114.2 255.0,114.2 L255.0,114.2 254.0,114.2 L254.0,114.2 253.0,114.2 L253.0,114.2 252.0,114.2 L252.0,114.2 251.0,114.2 L251.0,114.2 250.0,114.2 L250.0,114.2 249.0,114.2 L249.0,114.2 248.0,114.2 L248.0,114.2 247.0,114.2 L247.0,114.2 246.0,114.2 L246.0,114.2 245.0,114.2 L245.0,114.2 244.0,114.2 L244.0,114.2 243.0,114.2 L243.0,114.2 242.0,114.2 L242.0,114.2 241.0,114.2 L241.0,114.2 240.0,114.2 L240.0,114.2 239.0,114.2 L239.0,114.2 238.0,114.2 L238.0,114.2 237.0,114.2 L237.0,114.2 236.0,114.2 L236.0,114.2 235.0,114.2 L235.0,114.2 234.0,114.2 L234.0,114.2 233.0,114.2 L233.0,114.2 232.0,114.2 L232.0,114.2 231.0,114.2 L231.0,114.2 230.0,114.2 L230.0,114.2 229.0,114.2 L229.0,114.2 228.0,114.2 L228.0,114.2 227.0,114.2 Z" fill="#d00038" stroke="none"/>
<line x1="218" x2="226.5" y1="8.5" y2="8.5" stroke="#2c2c62" stroke-width="1"/>
<line x1="222" x2="226.5" y1="17.5" y2="17.5" stroke="#2c2c62" stroke-width="1"/>
<line x1="222" x2="226.5" y1="26.5" y2="26.5" stroke="#2c2c62" stroke-width="1"/>
<line x1="222" x2="226.5" y1="34.5" y2="34.5" stroke="#2c2c62" stroke-width="1"/>
<line x1="218" x2="226.5" y1="43.5" y2="43.5" stroke="#2c2c62" stroke-width="1"/>
<line x1="222" x2="226.5" y1="52.5" y2="52.5" stroke="#2c2c62" stroke-width="1"/>
<line x1="222" x2="226.5" y1="61.5" y2="61.5" stroke="#2c2c62" stroke-width="1"/>
<line x1="222" x2="226.5" y1="69.5" y2="69.5" stroke="#2c2c62" stroke-width="1"/>
<line x1="218" x2="226.5" y1="78.5" y2="78.5" stroke="#2c2c62" stroke-width="1"/>
<line x1="222" x2="226.5" y1="87.5" y2="87.5" stroke="#2c2c62" stroke-width="1"/>
<line x1="222" x2="226.5" y1="96.5" y2="96.5" stroke="#2c2c62" stroke-width="1"/>
<line x1="222" x2="226.5" y1="104.5" y2="104.5" stroke="#2c2c62" stroke-width="1"/>
<line x1="218" x2="226.5" y1="113.5" y2="113.5" stroke="#2c2c62" stroke-width="1"/>
<text x="212.5" y="13.8" font-size="13.4" font-family="'DejaVu Sans', 'Liberation Sans', sans-serif" text-anchor="end" fill="#2c2c62" stroke="#2c2c62" stroke-width="0.25" >30</text>
<text x="212.5" y="48.8" font-size="13.4" font-family="'DejaVu Sans', 'Liberation Sans', sans-serif" text-anchor="end" fill="#2c2c62" stroke="#2c2c62" stroke-width="0.25" >20</text>
<text x="212.5" y="83.8" font-size="13.4" font-family="'DejaVu Sans', 'Liberation Sans', sans-serif" text-anchor="end" fill="#2c2c62" stroke="#2c2c62" stroke-width="0.25" >10</text>
<text x="212.5" y="118.8" font-size="13.4" font-family="'DejaVu Sans', 'Liberation Sans', sans-serif" text-anchor="end" fill="#2c2c62" stroke="#2c2c62" stroke-width="0.25" >0</text>
<text x="252.3" y="133" font-size="13" font-family="'DejaVu Sans Condensed', 'Liberation Sans', sans-serif" text-anchor="start" fill="#2c2c62" stroke="#2c2c62" stroke-width="0.25" letter-spacing="0.5">Thu</text>
<text x="330.5" y="133" font-size="13" font-family="'DejaVu Sans Condensed', 'Liberation Sans', sans-serif" text-anchor="start" fill="#2c2c62" stroke="#2c2c62" stroke-width="0.25" letter-spacing="0.5">Fri</text>
<text x="408" y="133" font-size="13" font-family="'DejaVu Sans Condensed', 'Liberation Sans', sans-serif" text-anchor="start" fill="#2c2c62" stroke="#2c2c62" stroke-width="0.25" letter-spacing="0.5">Sat</text>
<text x="485.3" y="133" font-size="13" font-family="'DejaVu Sans Condensed', 'Liberation Sans', sans-serif" text-anchor="start" fill="#2c2c62" stroke="#2c2c62" stroke-width="0.25" letter-spacing="0.5">Sun</text>
<text x="563.6" y="133" font-size="13" font-family="'DejaVu Sans Condensed', 'Liberation Sans', sans-serif" text-anchor="start" fill="#2c2c62" stroke="#2c2c62" stroke-width="0.25" letter-spacing="0.5">Mon</text>
<text x="640.3" y="133" font-size="13" font-family="'DejaVu Sans Condensed', 'Liberation Sans', sans-serif" text-anchor="start" fill="#2c2c62" stroke="#2c2c62" stroke-width="0.25" letter-spacing="0.5">Tue</text>
<text x="717.4" y="133" font-size="13" font-family="'DejaVu Sans Condensed', 'Liberation Sans', sans-serif" text-anchor="start" fill="#2c2c62" stroke="#2c2c62" stroke-width="0.25" letter-spacing="0.5">Wed</text>
<path d="M779 173.5 L781 172.5 L781 318.8 L182 318.8 L184 316.6 L779 316.6 Z" fill="#46465f"/>
<rect x="184" y="175" width="595.2" height="141.6" fill="#b4b4d0"/>
<line x1="226.5" x2="770.5" y1="182.5" y2="182.5" stroke="#2c2c62" stroke-width="1" stroke-dasharray="3.5 1.5"/>
<line x1="226.5" x2="770.5" y1="208.5" y2="208.5" stroke="#2c2c62" stroke-width="1" stroke-dasharray="3.5 1.5"/>
<line x1="226.5" x2="770.5" y1="234.5" y2="234.5" stroke="#2c2c62" stroke-width="1" stroke-dasharray="3.5 1.5"/>
<line x1="226.5" x2="770.5" y1="260.5" y2="260.5" stroke="#2c2c62" stroke-width="1" stroke-dasharray="3.5 1.5"/>
<line x1="274.5" x2="274.5" y1="182.5" y2="287.5" stroke="#2c2c62" stroke-width="1" stroke-dasharray="3.5 1.5"/>
<line x1="322.5" x2="322.5" y1="182.5" y2="287.5" stroke="#2c2c62" stroke-width="1" stroke-dasharray="3.5 1.5"/>
<line x1="370.5" x2="370.5" y1="182.5" y2="287.5" stroke="#2c2c62" stroke-width="1" stroke-dasharray="3.5 1.5"/>
<line x1="418.5" x2="418.5" y1="182.5" y2="287.5" stroke="#2c2c62" stroke-width="1" stroke-dasharray="3.5 1.5"/>
<line x1="462.5" x2="462.5" y1="182.5" y2="287.5" stroke="#2c2c62" stroke-width="1" stroke-dasharray="3.5 1.5"/>
<line x1="506.5" x2="506.5" y1="182.5" y2="287.5" stroke="#2c2c62" stroke-width="1" stroke-dasharray="3.5 1.5"/>
<line x1="550.5" x2="550.5" y1="182.5" y2="287.5" stroke="#2c2c62" stroke-width="1" stroke-dasharray="3.5 1.5"/>
<line x1="594.5" x2="594.5" y1="182.5" y2="287.5" stroke="#2c2c62" stroke-width="1" stroke-dasharray="3.5 1.5"/>
<line x1="638.5" x2="638.5" y1="182.5" y2="287.5" stroke="#2c2c62" stroke-width="1" stroke-dasharray="3.5 1.5"/>
<line x1="682.5" x2="682.5" y1="182.5" y2="287.5" stroke="#2c2c62" stroke-width="1" stroke-dasharray="3.5 1.5"/>
<line x1="726.5" x2="726.5" y1="182.5" y2="287.5" stroke="#2c2c62" stroke-width="1" stroke-dasharray="3.5 1.5"/>
<line x1="770.5" x2="770.5" y1="182.5" y2="287.5" stroke="#2c2c62" stroke-width="1" stroke-dasharray="3.5 1.5"/>
<line x1="226.5" x2="226.5" y1="182" y2="288" stroke="#2c2c62" stroke-width="1.2"/>
<line x1="226" x2="770.5" y1="287.5" y2="287.5" stroke="#2c2c62" stroke-width="1"/>
<path d="M226.6,286.2 L227.3,287.8 L228.1,286.3 L228.8,287.8 L229.6,287.6 L230.3,287.8 L231.1,286.1 L231.8,286.9 L232.6,286.5 L233.3,287.8 L234.1,286.1 L234.8,287.4 L235.6,286.4 L236.3,287.8 L237.1,286.6 L237.8,287.8 L238.6,287.5 L239.3,287.4 L240.1,286.5 L240.8,287.0 L241.6,286.7 L242.3,287.8 L243.1,287.8 L243.8,287.4 L244.6,287.6 L245.3,287.8 L246.1,287.3 L246.8,287.8 L247.6,287.6 L248.3,287.8 L249.1,287.2 L249.8,287.8 L250.6,287.1 L251.3,287.5 L252.1,287.1 L252.8,287.8 L253.6,287.8 L254.3,287.8 L255.1,287.2 L255.8,287.8 L256.6,287.3 L257.4,287.8 L258.1,287.7 L258.9,287.8 L259.6,287.6 L260.4,287.8 L261.1,284.6 L261.9,287.3 L262.6,283.0 L263.4,287.2 L264.1,282.3 L264.9,285.9 L265.6,282.7 L266.4,281.9 L267.1,281.0 L267.9,279.6 L268.6,277.0 L269.4,279.1 L270.1,273.1 L270.9,275.7 L271.6,267.2 L272.4,270.9 L273.1,264.7 L273.9,264.5 L274.6,258.8 L275.4,264.2 L276.1,254.7 L276.9,262.3 L277.6,254.3 L278.4,255.4 L279.1,257.9 L279.9,258.8 L280.6,248.9 L281.4,259.8 L282.1,246.9 L282.9,259.6 L283.6,244.8 L284.4,255.5 L285.1,250.2 L285.9,253.9 L286.6,242.9 L287.4,246.6 L288.1,238.7 L288.9,242.4 L289.6,238.5 L290.4,246.4 L291.1,235.3 L291.9,240.1 L292.6,240.3 L293.4,245.8 L294.1,238.7 L294.9,252.5 L295.6,238.3 L296.4,251.7 L297.1,243.9 L297.9,251.7 L298.6,251.6 L299.4,251.4 L300.1,241.5 L300.9,251.8 L301.6,248.4 L302.4,251.9 L303.1,244.0 L303.9,248.6 L304.6,244.5 L305.4,252.2 L306.1,251.6 L306.9,257.4 L307.6,247.0 L308.4,260.1 L309.1,246.1 L309.9,255.3 L310.6,244.3 L311.4,247.2 L312.1,243.4 L312.9,254.3 L313.6,243.6 L314.4,253.9 L315.1,244.5 L315.9,256.6 L316.6,245.6 L317.4,254.0 L318.1,248.5 L318.9,253.8 L319.6,245.6 L320.4,259.4 L321.1,249.6 L321.9,259.2 L322.6,250.9 L323.4,256.8 L324.1,250.0 L324.9,248.5 L325.6,250.4 L326.4,250.0 L327.1,242.7 L327.9,244.6 L328.6,244.0 L329.4,245.9 L330.1,240.9 L330.9,245.3 L331.6,237.0 L332.4,240.4 L333.1,237.7 L333.9,246.7 L334.6,240.6 L335.4,247.6 L336.1,237.9 L336.9,238.6 L337.6,236.1 L338.4,247.8 L339.1,246.4 L339.9,246.0 L340.6,240.9 L341.4,240.4 L342.1,245.4 L342.9,245.7 L343.6,237.6 L344.4,245.5 L345.1,234.2 L345.9,244.9 L346.6,237.2 L347.4,237.4 L348.1,232.1 L348.9,241.9 L349.6,231.7 L350.4,241.7 L351.1,231.9 L351.9,237.4 L352.6,231.9 L353.4,244.2 L354.1,231.6 L354.9,237.0 L355.6,239.9 L356.4,239.9 L357.1,234.3 L357.9,245.1 L358.6,236.6 L359.4,244.5 L360.1,235.1 L360.9,243.0 L361.6,238.0 L362.4,244.2 L363.1,236.7 L363.9,244.1 L364.6,237.9 L365.4,245.5 L366.1,238.1 L366.9,245.9 L367.6,243.2 L368.4,245.0 L369.1,243.4 L369.9,246.1 L370.6,240.8 L371.4,256.4 L372.1,254.3 L372.9,253.0 L373.6,240.2 L374.4,257.4 L375.1,240.1 L375.9,255.4 L376.6,244.8 L377.4,249.3 L378.1,245.6 L378.9,252.3 L379.6,258.7 L380.4,255.3 L381.1,256.4 L381.9,260.9 L382.6,249.6 L383.4,234.5 L384.1,249.1 L384.9,262.1 L385.6,250.0 L386.4,252.4 L387.1,253.3 L387.9,257.4 L388.6,250.3 L389.4,257.1 L390.1,250.3 L390.9,253.4 L391.6,252.0 L392.4,254.1 L393.1,249.1 L393.9,250.9 L394.6,249.8 L395.4,250.1 L396.1,246.3 L396.9,248.5 L397.6,247.0 L398.4,251.0 L399.1,243.1 L399.9,248.4 L400.6,244.1 L401.4,250.8 L402.1,243.2 L402.9,247.6 L403.6,241.9 L404.4,244.1 L405.1,244.2 L405.9,245.9 L406.6,245.6 L407.4,250.5 L408.1,250.3 L408.9,248.2 L409.6,246.2 L410.4,250.8 L411.1,246.3 L411.9,251.6 L412.6,244.8 L413.4,250.8 L414.1,243.7 L414.9,244.0 L415.6,243.8 L416.4,249.6 L417.1,245.1 L417.9,254.3 L418.6,250.4 L419.4,261.9 L420.1,248.6 L420.9,258.2 L421.6,255.4 L422.4,261.1 L423.1,248.7 L423.9,257.3 L424.6,251.7 L425.4,253.8 L426.1,245.8 L426.9,245.1 L427.6,244.5 L428.4,248.8 L429.1,241.1 L429.9,251.6 L430.6,245.0 L431.4,253.6 L432.1,244.7 L432.9,254.1 L433.6,251.5 L434.4,246.7 L435.1,249.4 L435.9,256.5 L436.6,248.0 L437.4,254.1 L438.1,248.4 L438.9,256.2 L439.6,250.0 L440.4,253.1 L441.1,244.9 L441.9,255.5 L442.6,247.3 L443.4,252.0 L444.1,243.7 L444.9,252.8 L445.6,245.6 L446.4,244.4 L447.1,244.1 L447.9,250.5 L448.6,242.4 L449.4,250.2 L450.1,247.3 L450.9,249.5 L451.6,246.9 L452.4,244.1 L453.1,246.8 L453.9,250.3 L454.6,243.7 L455.4,253.6 L456.1,251.5 L456.9,251.7 L457.6,252.6 L458.4,253.3 L459.1,245.4 L459.9,256.9 L460.6,253.6 L461.4,260.1 L462.1,246.2 L462.9,256.5 L463.6,249.8 L464.4,253.9 L465.1,246.2 L465.9,257.1 L466.6,248.4 L467.4,258.8 L468.1,249.3 L468.9,258.1 L469.6,256.4 L470.4,261.4 L471.1,256.2 L471.9,254.9 L472.6,260.4 L473.4,256.1 L474.1,249.7 L474.9,258.3 L475.6,252.8 L476.4,260.0 L477.1,252.5 L477.9,260.9 L478.6,256.5 L479.4,260.4 L480.1,251.3 L480.9,252.4 L481.6,250.7 L482.4,251.6 L483.1,248.9 L483.9,251.4 L484.6,251.0 L485.4,259.6 L486.1,258.6 L486.9,262.0 L487.6,260.7 L488.4,273.0 L489.1,273.0 L489.9,278.5 L490.6,272.5 L491.4,279.2 L492.1,268.8 L492.9,275.0 L493.6,265.0 L494.4,271.0 L495.1,263.2 L495.9,274.2 L496.6,265.9 L497.4,272.9 L498.1,261.8 L498.9,267.4 L499.6,259.2 L500.4,263.7 L501.1,257.9 L501.9,264.0 L502.6,257.5 L503.4,266.0 L504.1,257.7 L504.9,264.8 L505.6,255.3 L506.4,260.0 L507.1,254.2 L507.9,260.7 L508.6,256.6 L509.4,259.0 L510.1,254.9 L510.9,261.7 L511.6,255.7 L512.4,259.6 L513.1,256.7 L513.9,260.7 L514.6,258.5 L515.4,263.2 L516.1,258.6 L516.9,264.7 L517.6,258.8 L518.4,266.0 L519.1,260.4 L519.9,263.5 L520.6,265.1 L521.4,266.6 L522.1,260.6 L522.9,267.7 L523.6,260.9 L524.4,264.1 L525.1,260.0 L525.9,265.1 L526.6,261.4 L527.4,267.7 L528.1,263.5 L528.9,267.5 L529.6,263.8 L530.4,271.3 L531.1,266.3 L531.9,273.7 L532.6,270.3 L533.4,272.2 L534.1,272.6 L534.9,274.8 L535.6,267.6 L536.4,270.5 L537.1,265.2 L537.9,268.3 L538.6,265.6 L539.4,266.7 L540.1,259.8 L540.9,263.7 L541.6,260.3 L542.4,264.6 L543.1,254.8 L543.9,261.0 L544.6,259.0 L545.4,264.1 L546.1,260.1 L546.9,270.2 L547.6,264.9 L548.4,269.8 L549.1,268.0 L549.9,271.3 L550.6,268.5 L551.4,274.3 L552.1,271.1 L552.9,271.5 L553.6,267.0 L554.4,271.4 L555.1,266.9 L555.9,272.5 L556.6,268.8 L557.4,274.4 L558.1,270.0 L558.9,275.8 L559.6,272.3 L560.4,275.9 L561.1,274.9 L561.9,274.9 L562.6,270.4 L563.4,278.0 L564.1,268.3 L564.9,273.4 L565.6,279.2 L566.4,279.5 L567.1,274.8 L567.9,279.7 L568.6,274.7 L569.4,279.0 L570.1,274.5 L570.9,279.3 L571.6,278.0 L572.4,280.7 L573.1,277.9 L573.9,278.7 L574.6,277.2 L575.4,280.5 L576.1,277.6 L576.9,280.1 L577.6,278.6 L578.4,278.6 L579.1,279.1 L579.9,282.1 L580.6,279.6 L581.4,282.6 L582.1,279.9 L582.9,283.3 L583.6,278.2 L584.4,278.7 L585.1,274.5 L585.9,275.3 L586.6,273.2 L587.4,276.2 L588.1,273.6 L588.9,277.8 L589.6,276.4 L590.4,278.4 L591.1,279.8 L591.9,281.2 L592.6,282.2 L593.4,283.3 L594.1,284.3 L594.9,286.3 L595.6,283.7 L596.4,287.8 L597.1,281.5 L597.9,284.6 L598.6,274.7 L599.4,282.4 L600.1,277.5 L600.9,280.5 L601.6,274.0 L602.4,277.8 L603.1,277.6 L603.9,281.7 L604.6,278.4 L605.4,283.3 L606.1,274.6 L606.9,276.1 L607.6,273.8 L608.4,275.4 L609.1,272.4 L609.9,273.2 L610.6,272.4 L611.4,277.2 L612.1,273.6 L612.9,279.5 L613.6,276.8 L614.4,279.8 L615.1,276.9 L615.9,283.0 L616.6,278.2 L617.4,277.0 L618.1,277.9 L618.9,281.8 L619.6,280.4 L620.4,286.5 L621.1,285.2 L621.9,287.8 L622.6,285.1 L623.4,287.0 L624.1,286.5 L624.9,286.4 L625.6,284.4 L626.4,287.1 L627.1,284.4 L627.9,287.3 L628.6,284.5 L629.4,287.0 L630.1,280.2 L630.9,287.8 L631.6,277.9 L632.4,283.9 L633.1,282.3 L633.9,287.0 L634.6,282.9 L635.4,287.8 L636.1,285.6 L636.9,286.6 L637.6,284.2 L638.4,282.4 L639.1,277.9 L639.9,277.5 L640.6,276.0 L641.4,277.5 L642.1,276.9 L642.9,279.6 L643.6,278.5 L644.4,280.7 L645.1,279.2 L645.9,281.9 L646.6,280.5 L647.4,282.1 L648.1,281.8 L648.9,283.8 L649.6,283.8 L650.4,284.4 L651.1,284.3 L651.9,285.5 L652.6,285.1 L653.4,285.6 L654.1,282.7 L654.9,284.3 L655.6,281.4 L656.4,284.3 L657.1,280.5 L657.9,283.4 L658.6,281.3 L659.4,282.3 L660.1,280.6 L660.9,280.3 L661.6,278.6 L662.4,280.0 L663.1,278.6 L663.9,278.7 L664.6,276.9 L665.4,277.6 L666.1,274.3 L666.9,275.6 L667.6,272.3 L668.4,274.6 L669.1,272.7 L669.9,276.7 L670.6,273.7 L671.4,280.1 L672.1,275.9 L672.9,282.7 L673.6,284.2 L674.4,287.8 L675.1,285.2 L675.9,286.4 L676.6,284.1 L677.4,284.2 L678.1,283.5 L678.9,284.5 L679.6,284.6 L680.4,283.7 L681.1,281.8 L681.9,284.3 L682.6,283.1 L683.4,285.7 L684.1,284.7 L684.9,286.4 L685.6,285.0 L686.4,286.0 L687.1,285.9 L687.9,285.0 L688.6,283.7 L689.4,285.2 L690.1,283.5 L690.9,283.9 L691.6,283.0 L692.4,283.8 L693.1,279.8 L693.9,281.3 L694.6,278.5 L695.4,281.3 L696.1,277.1 L696.9,280.1 L697.6,278.1 L698.4,278.7 L699.1,275.8 L699.9,277.9 L700.6,275.0 L701.4,276.9 L702.1,275.1 L702.9,276.9 L703.6,278.4 L704.4,285.4 L705.1,286.8 L705.9,286.9 L706.6,284.4 L707.4,284.7 L708.1,283.0 L708.9,283.4 L709.6,283.9 L710.4,285.5 L711.1,284.9 L711.9,286.3 L712.6,287.8 L713.4,287.8 L714.1,287.5 L714.9,287.1 L715.6,285.5 L716.4,285.2 L717.1,283.8 L717.9,285.8 L718.6,284.4 L719.4,286.4 L720.1,285.9 L720.9,287.4 L721.6,284.7 L722.4,287.1 L723.1,286.8 L723.9,287.8 L724.6,285.9 L725.4,287.8 L726.1,286.8 L726.9,287.8 L727.6,286.8 L728.4,287.8 L729.1,287.6 L729.9,287.8 L730.6,287.8 L731.4,287.8 L732.1,287.2 L732.9,286.7 L733.6,285.1 L734.4,285.8 L735.1,283.6 L735.9,284.0 L736.6,282.3 L737.4,282.4 L738.1,279.0 L738.9,281.1 L739.6,280.5 L740.4,282.0 L741.1,283.9 L741.9,286.8 L742.6,286.1 L743.4,287.8 L744.1,287.3 L744.9,287.8 L745.6,287.8" fill="none" stroke="#d00038" stroke-width="1.7" stroke-linejoin="round"/>
<path d="M226.6,284.3 L227.3,286.1 L228.1,278.5 L228.8,286.1 L229.6,279.0 L230.3,285.7 L231.1,283.0 L231.8,285.4 L232.6,280.1 L233.3,284.5 L234.1,282.4 L234.8,286.2 L235.6,283.5 L236.3,285.6 L237.1,283.5 L237.8,285.5 L238.6,284.0 L239.3,286.6 L240.1,284.0 L240.8,286.4 L241.6,281.0 L242.3,284.7 L243.1,274.5 L243.8,286.2 L244.6,280.8 L245.3,281.2 L246.1,282.2 L246.8,286.7 L247.6,284.6 L248.3,284.9 L249.1,285.1 L249.8,287.1 L250.6,281.2 L251.3,283.3 L252.1,279.1 L252.8,283.2 L253.6,282.1 L254.3,282.6 L255.1,278.1 L255.8,282.3 L256.6,281.5 L257.4,287.3 L258.1,286.4 L258.9,287.3 L259.6,286.7 L260.4,286.0 L261.1,282.5 L261.9,282.1 L262.6,274.8 L263.4,280.7 L264.1,275.8 L264.9,280.5 L265.6,279.9 L266.4,281.2 L267.1,278.2 L267.9,277.3 L268.6,273.8 L269.4,275.7 L270.1,268.3 L270.9,272.9 L271.6,260.5 L272.4,269.0 L273.1,254.1 L273.9,256.0 L274.6,250.4 L275.4,259.0 L276.1,246.1 L276.9,243.8 L277.6,245.0 L278.4,244.7 L279.1,235.1 L279.9,249.8 L280.6,231.9 L281.4,249.6 L282.1,233.1 L282.9,248.1 L283.6,232.1 L284.4,251.1 L285.1,232.6 L285.9,241.9 L286.6,230.0 L287.4,243.5 L288.1,226.0 L288.9,240.8 L289.6,226.0 L290.4,240.6 L291.1,222.3 L291.9,241.5 L292.6,223.5 L293.4,223.5 L294.1,225.8 L294.9,228.1 L295.6,229.2 L296.4,244.9 L297.1,226.7 L297.9,242.7 L298.6,237.3 L299.4,242.9 L300.1,229.7 L300.9,247.2 L301.6,223.2 L302.4,243.1 L303.1,222.0 L303.9,240.1 L304.6,235.5 L305.4,237.9 L306.1,244.1 L306.9,244.5 L307.6,235.5 L308.4,247.5 L309.1,241.2 L309.9,246.9 L310.6,236.7 L311.4,244.9 L312.1,230.7 L312.9,241.7 L313.6,231.3 L314.4,244.2 L315.1,236.4 L315.9,246.4 L316.6,239.5 L317.4,242.4 L318.1,224.4 L318.9,246.1 L319.6,240.8 L320.4,237.6 L321.1,239.7 L321.9,252.0 L322.6,246.6 L323.4,252.2 L324.1,249.6 L324.9,253.6 L325.6,242.4 L326.4,245.2 L327.1,235.3 L327.9,244.7 L328.6,224.7 L329.4,240.3 L330.1,227.3 L330.9,222.3 L331.6,218.9 L332.4,241.9 L333.1,227.7 L333.9,241.4 L334.6,224.1 L335.4,227.6 L336.1,230.0 L336.9,236.9 L337.6,221.7 L338.4,226.7 L339.1,228.3 L339.9,234.3 L340.6,222.3 L341.4,241.1 L342.1,227.5 L342.9,239.7 L343.6,221.7 L344.4,230.6 L345.1,219.3 L345.9,218.7 L346.6,213.9 L347.4,231.8 L348.1,212.8 L348.9,236.2 L349.6,215.5 L350.4,222.8 L351.1,217.5 L351.9,219.0 L352.6,222.0 L353.4,232.3 L354.1,217.8 L354.9,231.6 L355.6,224.5 L356.4,225.9 L357.1,217.1 L357.9,229.4 L358.6,225.2 L359.4,237.9 L360.1,215.6 L360.9,234.6 L361.6,217.0 L362.4,238.5 L363.1,219.8 L363.9,242.8 L364.6,229.4 L365.4,231.2 L366.1,216.1 L366.9,231.5 L367.6,212.5 L368.4,243.6 L369.1,217.7 L369.9,232.0 L370.6,215.3 L371.4,242.5 L372.1,211.5 L372.9,246.0 L373.6,219.3 L374.4,234.1 L375.1,218.9 L375.9,234.0 L376.6,230.4 L377.4,236.0 L378.1,208.0 L378.9,238.5 L379.6,229.5 L380.4,236.1 L381.1,228.9 L381.9,230.7 L382.6,213.9 L383.4,230.4 L384.1,236.4 L384.9,251.1 L385.6,237.2 L386.4,243.7 L387.1,234.0 L387.9,254.5 L388.6,238.8 L389.4,245.4 L390.1,243.6 L390.9,246.3 L391.6,243.9 L392.4,244.4 L393.1,244.8 L393.9,252.5 L394.6,240.2 L395.4,252.3 L396.1,233.0 L396.9,248.7 L397.6,228.3 L398.4,238.2 L399.1,225.6 L399.9,246.7 L400.6,230.9 L401.4,238.1 L402.1,231.7 L402.9,231.9 L403.6,220.7 L404.4,235.5 L405.1,227.0 L405.9,235.2 L406.6,236.6 L407.4,240.7 L408.1,236.9 L408.9,249.8 L409.6,233.6 L410.4,250.8 L411.1,227.9 L411.9,244.8 L412.6,235.1 L413.4,245.5 L414.1,230.9 L414.9,244.7 L415.6,239.9 L416.4,235.5 L417.1,229.6 L417.9,251.1 L418.6,238.3 L419.4,250.8 L420.1,236.6 L420.9,256.0 L421.6,238.2 L422.4,254.5 L423.1,245.9 L423.9,250.5 L424.6,232.3 L425.4,248.3 L426.1,243.4 L426.9,246.9 L427.6,228.1 L428.4,242.7 L429.1,231.1 L429.9,236.0 L430.6,227.6 L431.4,242.9 L432.1,224.1 L432.9,248.4 L433.6,220.7 L434.4,231.3 L435.1,226.4 L435.9,236.2 L436.6,229.3 L437.4,238.3 L438.1,228.7 L438.9,244.2 L439.6,235.0 L440.4,249.1 L441.1,225.5 L441.9,247.1 L442.6,231.7 L443.4,237.2 L444.1,225.3 L444.9,235.5 L445.6,224.2 L446.4,227.4 L447.1,225.1 L447.9,247.3 L448.6,212.8 L449.4,228.6 L450.1,218.2 L450.9,234.7 L451.6,224.3 L452.4,239.8 L453.1,237.1 L453.9,243.9 L454.6,224.7 L455.4,248.7 L456.1,220.7 L456.9,242.4 L457.6,226.1 L458.4,237.0 L459.1,232.9 L459.9,239.7 L460.6,232.3 L461.4,237.3 L462.1,232.8 L462.9,233.3 L463.6,222.8 L464.4,251.3 L465.1,231.5 L465.9,246.4 L466.6,238.5 L467.4,245.1 L468.1,234.3 L468.9,252.3 L469.6,231.8 L470.4,244.5 L471.1,223.9 L471.9,232.4 L472.6,216.7 L473.4,252.8 L474.1,234.3 L474.9,245.0 L475.6,232.6 L476.4,250.3 L477.1,236.1 L477.9,246.0 L478.6,235.5 L479.4,251.6 L480.1,238.3 L480.9,251.9 L481.6,242.4 L482.4,236.0 L483.1,232.6 L483.9,248.2 L484.6,240.3 L485.4,252.7 L486.1,248.0 L486.9,260.9 L487.6,250.1 L488.4,267.1 L489.1,244.1 L489.9,246.0 L490.6,259.7 L491.4,258.9 L492.1,242.5 L492.9,252.8 L493.6,247.1 L494.4,258.1 L495.1,261.5 L495.9,253.7 L496.6,247.7 L497.4,258.1 L498.1,256.0 L498.9,253.8 L499.6,242.0 L500.4,252.2 L501.1,230.3 L501.9,250.8 L502.6,228.0 L503.4,248.7 L504.1,234.6 L504.9,253.3 L505.6,249.1 L506.4,248.9 L507.1,234.7 L507.9,258.9 L508.6,234.4 L509.4,255.0 L510.1,238.6 L510.9,255.8 L511.6,246.4 L512.4,254.5 L513.1,240.7 L513.9,255.8 L514.6,241.3 L515.4,256.2 L516.1,244.8 L516.9,263.4 L517.6,247.3 L518.4,263.5 L519.1,264.3 L519.9,261.8 L520.6,246.9 L521.4,249.3 L522.1,249.9 L522.9,265.2 L523.6,248.7 L524.4,241.7 L525.1,246.6 L525.9,255.5 L526.6,249.3 L527.4,260.8 L528.1,261.7 L528.9,266.7 L529.6,261.3 L530.4,268.0 L531.1,257.2 L531.9,270.8 L532.6,264.8 L533.4,268.4 L534.1,258.9 L534.9,272.0 L535.6,268.4 L536.4,259.9 L537.1,252.2 L537.9,266.2 L538.6,247.2 L539.4,262.7 L540.1,247.8 L540.9,262.2 L541.6,257.2 L542.4,259.9 L543.1,247.1 L543.9,258.1 L544.6,249.6 L545.4,261.6 L546.1,247.6 L546.9,266.4 L547.6,260.4 L548.4,269.4 L549.1,258.9 L549.9,267.6 L550.6,259.4 L551.4,271.5 L552.1,263.5 L552.9,264.6 L553.6,260.9 L554.4,267.6 L555.1,263.7 L555.9,270.8 L556.6,266.0 L557.4,271.7 L558.1,266.4 L558.9,272.0 L559.6,266.9 L560.4,274.6 L561.1,268.0 L561.9,271.2 L562.6,262.4 L563.4,270.8 L564.1,259.1 L564.9,263.9 L565.6,259.2 L566.4,270.8 L567.1,265.9 L567.9,270.2 L568.6,270.6 L569.4,276.0 L570.1,270.4 L570.9,276.9 L571.6,270.1 L572.4,276.9 L573.1,270.5 L573.9,278.1 L574.6,272.5 L575.4,279.0 L576.1,274.4 L576.9,276.6 L577.6,270.0 L578.4,272.8 L579.1,273.8 L579.9,278.4 L580.6,274.6 L581.4,277.9 L582.1,273.0 L582.9,277.7 L583.6,269.2 L584.4,277.4 L585.1,270.4 L585.9,275.3 L586.6,269.0 L587.4,272.2 L588.1,266.7 L588.9,276.6 L589.6,272.3 L590.4,279.3 L591.1,275.7 L591.9,280.5 L592.6,278.6 L593.4,280.3 L594.1,283.5 L594.9,284.5 L595.6,278.4 L596.4,281.5 L597.1,276.9 L597.9,272.0 L598.6,264.1 L599.4,272.9 L600.1,270.5 L600.9,275.9 L601.6,274.0 L602.4,276.3 L603.1,272.5 L603.9,276.9 L604.6,269.4 L605.4,274.8 L606.1,267.5 L606.9,269.4 L607.6,265.2 L608.4,272.3 L609.1,264.0 L609.9,265.2 L610.6,263.1 L611.4,273.2 L612.1,267.9 L612.9,267.4 L613.6,276.7 L614.4,277.3 L615.1,272.7 L615.9,278.1 L616.6,273.6 L617.4,274.7 L618.1,272.3 L618.9,275.3 L619.6,275.9 L620.4,281.8 L621.1,280.0 L621.9,284.4 L622.6,280.2 L623.4,284.8 L624.1,282.1 L624.9,285.0 L625.6,283.0 L626.4,284.2 L627.1,283.6 L627.9,281.2 L628.6,279.0 L629.4,279.1 L630.1,276.7 L630.9,280.2 L631.6,279.1 L632.4,272.1 L633.1,272.2 L633.9,277.4 L634.6,276.2 L635.4,277.4 L636.1,280.4 L636.9,285.3 L637.6,278.9 L638.4,279.4 L639.1,274.9 L639.9,276.6 L640.6,273.2 L641.4,275.6 L642.1,274.9 L642.9,278.4 L643.6,275.0 L644.4,279.8 L645.1,276.6 L645.9,280.1 L646.6,278.4 L647.4,279.9 L648.1,279.1 L648.9,281.7 L649.6,281.0 L650.4,283.7 L651.1,284.4 L651.9,284.5 L652.6,282.7 L653.4,283.5 L654.1,282.9 L654.9,282.7 L655.6,281.6 L656.4,281.3 L657.1,278.0 L657.9,277.4 L658.6,277.0 L659.4,278.2 L660.1,278.2 L660.9,279.3 L661.6,277.9 L662.4,278.9 L663.1,276.4 L663.9,278.5 L664.6,273.0 L665.4,276.3 L666.1,264.0 L666.9,266.9 L667.6,267.9 L668.4,267.0 L669.1,268.6 L669.9,262.1 L670.6,262.5 L671.4,267.6 L672.1,265.1 L672.9,278.3 L673.6,277.7 L674.4,285.9 L675.1,282.6 L675.9,282.6 L676.6,280.2 L677.4,283.7 L678.1,278.8 L678.9,280.8 L679.6,278.0 L680.4,283.1 L681.1,277.9 L681.9,279.7 L682.6,281.0 L683.4,283.8 L684.1,283.5 L684.9,284.9 L685.6,282.4 L686.4,282.7 L687.1,281.7 L687.9,283.8 L688.6,281.8 L689.4,283.1 L690.1,278.9 L690.9,282.5 L691.6,277.5 L692.4,280.4 L693.1,277.5 L693.9,279.9 L694.6,277.8 L695.4,278.4 L696.1,273.1 L696.9,278.2 L697.6,269.3 L698.4,276.8 L699.1,269.5 L699.9,277.2 L700.6,269.7 L701.4,273.2 L702.1,274.0 L702.9,277.3 L703.6,274.5 L704.4,283.8 L705.1,283.8 L705.9,284.8 L706.6,282.7 L707.4,284.3 L708.1,279.8 L708.9,283.5 L709.6,281.4 L710.4,284.7 L711.1,281.4 L711.9,285.5 L712.6,284.1 L713.4,286.5 L714.1,287.0 L714.9,286.4 L715.6,284.9 L716.4,285.0 L717.1,280.9 L717.9,282.8 L718.6,283.7 L719.4,284.7 L720.1,284.2 L720.9,284.2 L721.6,283.0 L722.4,283.5 L723.1,282.4 L723.9,284.4 L724.6,284.6 L725.4,286.1 L726.1,285.1 L726.9,286.1 L727.6,284.0 L728.4,286.6 L729.1,285.6 L729.9,287.5 L730.6,287.6 L731.4,287.3 L732.1,286.7 L732.9,286.4 L733.6,285.5 L734.4,284.9 L735.1,282.3 L735.9,283.6 L736.6,278.7 L737.4,281.2 L738.1,274.6 L738.9,280.3 L739.6,280.3 L740.4,281.9 L741.1,281.0 L741.9,283.2 L742.6,284.3 L743.4,286.6 L744.1,286.3 L744.9,287.1 L745.6,287.5" fill="none" stroke="#1eff0a" stroke-width="1.7" stroke-linejoin="round"/>
<line x1="218" x2="226.5" y1="182.50" y2="182.50" stroke="#2c2c62" stroke-width="1"/>
<line x1="222" x2="226.5" y1="189.50" y2="189.50" stroke="#2c2c62" stroke-width="1"/>
<line x1="222" x2="226.5" y1="195.50" y2="195.50" stroke="#2c2c62" stroke-width="1"/>
<line x1="222" x2="226.5" y1="202.50" y2="202.50" stroke="#2c2c62" stroke-width="1"/>
<line x1="218" x2="226.5" y1="208.50" y2="208.50" stroke="#2c2c62" stroke-width="1"/>
<line x1="222" x2="226.5" y1="215.50" y2="215.50" stroke="#2c2c62" stroke-width="1"/>
<line x1="222" x2="226.5" y1="221.50" y2="221.50" stroke="#2c2c62" stroke-width="1"/>
<line x1="222" x2="226.5" y1="228.50" y2="228.50" stroke="#2c2c62" stroke-width="1"/>
<line x1="218" x2="226.5" y1="234.50" y2="234.50" stroke="#2c2c62" stroke-width="1"/>
<line x1="222" x2="226.5" y1="241.50" y2="241.50" stroke="#2c2c62" stroke-width="1"/>
<line x1="222" x2="226.5" y1="247.50" y2="247.50" stroke="#2c2c62" stroke-width="1"/>
<line x1="222" x2="226.5" y1="254.50" y2="254.50" stroke="#2c2c62" stroke-width="1"/>
<line x1="218" x2="226.5" y1="260.50" y2="260.50" stroke="#2c2c62" stroke-width="1"/>
<line x1="222" x2="226.5" y1="267.50" y2="267.50" stroke="#2c2c62" stroke-width="1"/>
<line x1="222" x2="226.5" y1="274.50" y2="274.50" stroke="#2c2c62" stroke-width="1"/>
<line x1="222" x2="226.5" y1="280.50" y2="280.50" stroke="#2c2c62" stroke-width="1"/>
<line x1="218" x2="226.5" y1="287.50" y2="287.50" stroke="#2c2c62" stroke-width="1"/>
<text x="212.5" y="187.8" font-size="13.4" font-family="'DejaVu Sans', 'Liberation Sans', sans-serif" text-anchor="end" fill="#2c2c62" stroke="#2c2c62" stroke-width="0.25" >40</text>
<text x="212.5" y="213.8" font-size="13.4" font-family="'DejaVu Sans', 'Liberation Sans', sans-serif" text-anchor="end" fill="#2c2c62" stroke="#2c2c62" stroke-width="0.25" >30</text>
<text x="212.5" y="239.8" font-size="13.4" font-family="'DejaVu Sans', 'Liberation Sans', sans-serif" text-anchor="end" fill="#2c2c62" stroke="#2c2c62" stroke-width="0.25" >20</text>
<text x="212.5" y="265.8" font-size="13.4" font-family="'DejaVu Sans', 'Liberation Sans', sans-serif" text-anchor="end" fill="#2c2c62" stroke="#2c2c62" stroke-width="0.25" >10</text>
<text x="212.5" y="292.8" font-size="13.4" font-family="'DejaVu Sans', 'Liberation Sans', sans-serif" text-anchor="end" fill="#2c2c62" stroke="#2c2c62" stroke-width="0.25" >0</text>
<text x="226.5" y="310.6" font-size="13" font-family="'DejaVu Sans', 'Liberation Sans', sans-serif" text-anchor="middle" fill="#2c2c62" stroke="#2c2c62" stroke-width="0.25" >10</text>
<text x="274.5" y="310.6" font-size="13" font-family="'DejaVu Sans', 'Liberation Sans', sans-serif" text-anchor="middle" fill="#2c2c62" stroke="#2c2c62" stroke-width="0.25" >11</text>
<text x="322.5" y="310.6" font-size="13" font-family="'DejaVu Sans', 'Liberation Sans', sans-serif" text-anchor="middle" fill="#2c2c62" stroke="#2c2c62" stroke-width="0.25" >N</text>
<text x="370.5" y="310.6" font-size="13" font-family="'DejaVu Sans', 'Liberation Sans', sans-serif" text-anchor="middle" fill="#2c2c62" stroke="#2c2c62" stroke-width="0.25" >1</text>
<text x="418.5" y="310.6" font-size="13" font-family="'DejaVu Sans', 'Liberation Sans', sans-serif" text-anchor="middle" fill="#2c2c62" stroke="#2c2c62" stroke-width="0.25" >2</text>
<text x="462.5" y="310.6" font-size="13" font-family="'DejaVu Sans', 'Liberation Sans', sans-serif" text-anchor="middle" fill="#2c2c62" stroke="#2c2c62" stroke-width="0.25" >3</text>
<text x="506.5" y="310.6" font-size="13" font-family="'DejaVu Sans', 'Liberation Sans', sans-serif" text-anchor="middle" fill="#2c2c62" stroke="#2c2c62" stroke-width="0.25" >4</text>
<text x="550.5" y="310.6" font-size="13" font-family="'DejaVu Sans', 'Liberation Sans', sans-serif" text-anchor="middle" fill="#2c2c62" stroke="#2c2c62" stroke-width="0.25" >5</text>
<text x="594.5" y="310.6" font-size="13" font-family="'DejaVu Sans', 'Liberation Sans', sans-serif" text-anchor="middle" fill="#2c2c62" stroke="#2c2c62" stroke-width="0.25" >6</text>
<text x="638.5" y="310.6" font-size="13" font-family="'DejaVu Sans', 'Liberation Sans', sans-serif" text-anchor="middle" fill="#2c2c62" stroke="#2c2c62" stroke-width="0.25" >7</text>
<text x="682.5" y="310.6" font-size="13" font-family="'DejaVu Sans', 'Liberation Sans', sans-serif" text-anchor="middle" fill="#2c2c62" stroke="#2c2c62" stroke-width="0.25" >8</text>
<text x="726.5" y="310.6" font-size="13" font-family="'DejaVu Sans', 'Liberation Sans', sans-serif" text-anchor="middle" fill="#2c2c62" stroke="#2c2c62" stroke-width="0.25" >9</text>
<text x="770.5" y="310.6" font-size="13" font-family="'DejaVu Sans', 'Liberation Sans', sans-serif" text-anchor="middle" fill="#2c2c62" stroke="#2c2c62" stroke-width="0.25" >10</text>
<path d="M779 347.5 L781 346.5 L781 487.8 L182 487.8 L184 485.6 L779 485.6 Z" fill="#46465f"/>
<rect x="184" y="349" width="595.2" height="136.6" fill="#b4b4d0"/>
<line x1="226.5" x2="770.5" y1="356.5" y2="356.5" stroke="#2c2c62" stroke-width="1" stroke-dasharray="3.5 1.5"/>
<line x1="226.5" x2="770.5" y1="368.5" y2="368.5" stroke="#2c2c62" stroke-width="1" stroke-dasharray="3.5 1.5"/>
<line x1="226.5" x2="770.5" y1="380.5" y2="380.5" stroke="#2c2c62" stroke-width="1" stroke-dasharray="3.5 1.5"/>
<line x1="226.5" x2="770.5" y1="392.5" y2="392.5" stroke="#2c2c62" stroke-width="1" stroke-dasharray="3.5 1.5"/>
<line x1="226.5" x2="770.5" y1="404.5" y2="404.5" stroke="#2c2c62" stroke-width="1" stroke-dasharray="3.5 1.5"/>
<line x1="226.5" x2="770.5" y1="417.5" y2="417.5" stroke="#2c2c62" stroke-width="1" stroke-dasharray="3.5 1.5"/>
<line x1="226.5" x2="770.5" y1="430.5" y2="430.5" stroke="#2c2c62" stroke-width="1" stroke-dasharray="3.5 1.5"/>
<line x1="226.5" x2="770.5" y1="443.5" y2="443.5" stroke="#2c2c62" stroke-width="1" stroke-dasharray="3.5 1.5"/>
<line x1="274.5" x2="274.5" y1="356.5" y2="456.5" stroke="#2c2c62" stroke-width="1" stroke-dasharray="3.5 1.5"/>
<line x1="322.5" x2="322.5" y1="356.5" y2="456.5" stroke="#2c2c62" stroke-width="1" stroke-dasharray="3.5 1.5"/>
<line x1="370.5" x2="370.5" y1="356.5" y2="456.5" stroke="#2c2c62" stroke-width="1" stroke-dasharray="3.5 1.5"/>
<line x1="418.5" x2="418.5" y1="356.5" y2="456.5" stroke="#2c2c62" stroke-width="1" stroke-dasharray="3.5 1.5"/>
<line x1="462.5" x2="462.5" y1="356.5" y2="456.5" stroke="#2c2c62" stroke-width="1" stroke-dasharray="3.5 1.5"/>
<line x1="506.5" x2="506.5" y1="356.5" y2="456.5" stroke="#2c2c62" stroke-width="1" stroke-dasharray="3.5 1.5"/>
<line x1="550.5" x2="550.5" y1="356.5" y2="456.5" stroke="#2c2c62" stroke-width="1" stroke-dasharray="3.5 1.5"/>
<line x1="594.5" x2="594.5" y1="356.5" y2="456.5" stroke="#2c2c62" stroke-width="1" stroke-dasharray="3.5 1.5"/>
<line x1="638.5" x2="638.5" y1="356.5" y2="456.5" stroke="#2c2c62" stroke-width="1" stroke-dasharray="3.5 1.5"/>
<line x1="682.5" x2="682.5" y1="356.5" y2="456.5" stroke="#2c2c62" stroke-width="1" stroke-dasharray="3.5 1.5"/>
<line x1="726.5" x2="726.5" y1="356.5" y2="456.5" stroke="#2c2c62" stroke-width="1" stroke-dasharray="3.5 1.5"/>
<line x1="770.5" x2="770.5" y1="356.5" y2="456.5" stroke="#2c2c62" stroke-width="1" stroke-dasharray="3.5 1.5"/>
<path d="M226.7,358.2 L242.9,358.2 L243.5,451.1 L252.4,451.1 L252.9,456.7 L253.1,364.4 L263.5,364.4 L264.4,386.7 L265.1,407.8 L269.1,407.8 L269.5,395.5 L270.0,395.8 L272.7,395.8 L273.3,400.2 L273.9,395.8 L277.0,395.8 L277.6,400.4 L278.2,395.8 L281.2,395.8 L281.8,400.4 L282.4,395.8 L284.0,395.8 L284.6,399.9 L285.2,395.8 L288.0,395.8 L288.4,407.8 L291.5,407.8 L292.0,401.5 L303.0,401.5 L303.5,407.8 L304.0,401.5 L308.4,401.5 L309.5,395.5 L311.8,395.5 L312.9,402.2 L315.5,402.2 L316.2,407.8 L317.0,401.5 L318.4,401.0 L321.3,394.4 L324.0,402.2 L325.5,402.2 L326.2,408.2 L327.0,402.2 L339.5,402.2 L340.0,394.4 L340.6,402.2 L341.6,402.2 L342.2,408.2 L342.8,403.3 L349.5,403.3 L350.0,403.3 L351.5,403.3 L352.1,408.8 L352.7,403.3 L353.5,403.3 L354.1,408.2 L354.7,403.3 L355.6,403.3 L356.2,408.3 L356.8,403.3 L358.2,403.3 L358.8,407.5 L359.4,403.3 L360.3,403.3 L360.9,407.9 L361.5,403.3 L363.4,403.3 L364.0,408.6 L364.6,403.3 L365.4,403.3 L366.0,408.6 L366.6,403.3 L367.4,403.3 L368.0,408.4 L368.6,403.3 L370.5,403.3 L370.7,403.3 L375.0,403.3 L376.0,402.2 L377.0,403.3 L380.0,403.3 L381.0,402.2 L382.0,403.3 L383.0,403.3 L383.5,414.4 L384.0,403.3 L385.0,403.3 L385.3,413.0 L386.0,400.5 L386.2,400.5 L386.8,406.9 L387.3,400.5 L387.6,400.5 L388.2,408.2 L388.7,400.5 L389.1,400.5 L389.7,407.6 L390.2,400.5 L390.8,400.5 L391.4,394.1 L391.9,400.5 L392.5,400.5 L393.1,408.3 L393.6,400.5 L394.0,400.5 L394.6,406.8 L395.1,400.5 L395.4,400.5 L395.9,395.1 L396.5,400.5 L397.1,400.5 L397.6,394.5 L398.2,400.5 L398.6,400.5 L399.1,394.3 L399.7,400.5 L400.1,400.5 L400.7,394.8 L401.2,400.5 L401.9,400.5 L402.4,394.0 L403.0,400.5 L403.2,400.5 L403.7,408.2 L404.3,400.5 L404.5,400.5 L405.0,407.2 L405.6,400.5 L406.0,400.5 L406.0,396.5 L406.8,396.5 L407.4,400.7 L408.0,396.5 L409.2,396.5 L409.8,401.9 L410.4,396.5 L411.7,396.5 L412.3,401.7 L412.9,396.5 L415.7,396.5 L416.3,401.9 L416.9,396.5 L418.5,396.5 L419.1,401.1 L419.7,396.5 L421.6,396.5 L422.2,401.7 L422.8,396.5 L423.8,396.5 L424.4,401.7 L425.0,396.5 L427.6,396.5 L428.2,401.8 L428.8,396.5 L429.7,396.5 L430.3,401.9 L430.9,396.5 L432.0,396.5 L432.0,408.2 L435.0,408.2 L435.5,396.5 L437.0,396.5 L437.6,401.0 L438.2,396.5 L441.1,396.5 L441.7,400.7 L442.3,396.5 L445.1,396.5 L445.7,400.9 L446.3,396.5 L447.8,396.5 L448.4,400.6 L449.0,396.5 L450.2,396.5 L450.8,400.3 L451.4,396.5 L452.5,396.5 L453.1,401.1 L453.7,396.5 L457.0,396.5 L457.3,408.2 L459.5,408.2 L460.0,396.5 L461.2,396.5 L461.8,400.3 L462.4,396.5 L465.9,396.5 L466.5,400.9 L467.1,396.5 L469.0,396.5 L469.6,400.5 L470.2,396.5 L472.6,396.5 L473.2,401.3 L473.8,396.5 L475.8,396.5 L476.4,400.8 L477.0,396.5 L478.0,396.5 L478.6,401.4 L479.2,396.5 L480.1,396.5 L480.7,400.9 L481.3,396.5 L485.0,396.5 L485.0,391.0 L487.5,391.0 L488.4,382.2 L489.5,401.0 L490.7,394.4 L495.0,394.4 L495.5,389.0 L498.0,392.0 L500.0,389.5 L503.0,392.0 L503.5,395.5 L505.0,395.5 L505.5,401.0 L510.5,401.0 L510.7,395.5 L515.0,395.5 L515.5,389.0 L516.5,395.5 L524.0,395.5 L524.4,401.5 L525.0,395.5 L534.0,395.5 L535.0,387.8 L536.2,400.0 L537.3,395.5 L539.8,395.5 L540.7,408.2 L542.2,394.4 L543.5,389.0 L545.1,395.5 L547.3,389.0 L549.0,382.5 L550.5,395.5 L571.8,395.5 L572.9,390.0 L574.7,376.7 L576.2,395.5 L577.3,376.7 L578.4,392.0 L580.0,382.0 L581.8,376.7 L583.5,363.3 L585.1,358.2 L598.4,358.2 L599.1,388.9 L603.5,389.5 L604.4,382.2 L606.2,389.5 L607.3,395.5 L609.5,389.0 L611.8,392.0 L614.0,394.4 L615.1,358.2 L616.2,395.5 L617.3,364.4 L618.4,451.1 L631.8,451.1 L632.4,401.5 L634.0,397.8 L636.2,395.0 L637.3,383.3 L639.0,383.3 L640.0,358.2 L640.7,358.2 L641.5,405.0 L642.2,451.1 L643.5,456.7 L649.5,456.7 L650.7,451.1 L657.3,451.1 L658.0,410.0 L659.0,371.0 L660.7,371.0 L661.8,359.0 L664.0,358.2 L665.0,405.5 L666.7,451.1 L668.4,456.7 L669.5,451.1 L682.2,451.1 L682.9,431.8 L697.3,431.8 L698.0,451.1 L700.0,451.1 L700.7,426.0 L702.5,425.5 L703.5,420.0 L704.4,426.0 L713.0,426.0" fill="none" stroke="#ffff00" stroke-width="1.75" stroke-linejoin="round"/>
<line x1="714" x2="717.3" y1="426" y2="426" stroke="#ffff00" stroke-width="1.75"/>
<line x1="719.5" x2="722.2" y1="426" y2="426" stroke="#ffff00" stroke-width="1.75"/>
<line x1="724" x2="726.2" y1="426" y2="426" stroke="#ffff00" stroke-width="1.75"/>
<line x1="727.3" x2="729.5" y1="426" y2="426" stroke="#ffff00" stroke-width="1.75"/>
<path d="M729.5,426.0 L736.0,426.0 L737.0,377.0 L738.4,377.1 L743.0,377.1" fill="none" stroke="#ffff00" stroke-width="1.75" stroke-linejoin="round"/>
<line x1="226.5" x2="226.5" y1="356" y2="457" stroke="#2c2c62" stroke-width="1.2"/>
<line x1="226" x2="770.5" y1="456.5" y2="456.5" stroke="#2c2c62" stroke-width="1"/>
<line x1="218" x2="226.5" y1="356.5" y2="356.5" stroke="#2c2c62" stroke-width="1"/>
<line x1="218" x2="226.5" y1="368.5" y2="368.5" stroke="#2c2c62" stroke-width="1"/>
<line x1="218" x2="226.5" y1="380.5" y2="380.5" stroke="#2c2c62" stroke-width="1"/>
<line x1="218" x2="226.5" y1="392.5" y2="392.5" stroke="#2c2c62" stroke-width="1"/>
<line x1="218" x2="226.5" y1="404.5" y2="404.5" stroke="#2c2c62" stroke-width="1"/>
<line x1="218" x2="226.5" y1="417.5" y2="417.5" stroke="#2c2c62" stroke-width="1"/>
<line x1="218" x2="226.5" y1="430.5" y2="430.5" stroke="#2c2c62" stroke-width="1"/>
<line x1="218" x2="226.5" y1="443.5" y2="443.5" stroke="#2c2c62" stroke-width="1"/>
<line x1="218" x2="226.5" y1="456.5" y2="456.5" stroke="#2c2c62" stroke-width="1"/>
<text x="194.4" y="361.8" font-size="13" font-family="'DejaVu Sans Condensed', 'Liberation Sans', sans-serif" text-anchor="start" fill="#2c2c62" stroke="#2c2c62" stroke-width="0.25" letter-spacing="0.25">N</text>
<text x="194.4" y="373.8" font-size="13" font-family="'DejaVu Sans Condensed', 'Liberation Sans', sans-serif" text-anchor="start" fill="#2c2c62" stroke="#2c2c62" stroke-width="0.25" letter-spacing="0.25">NW</text>
<text x="194.4" y="385.8" font-size="13" font-family="'DejaVu Sans Condensed', 'Liberation Sans', sans-serif" text-anchor="start" fill="#2c2c62" stroke="#2c2c62" stroke-width="0.25" letter-spacing="0.25">W</text>
<text x="194.4" y="397.8" font-size="13" font-family="'DejaVu Sans Condensed', 'Liberation Sans', sans-serif" text-anchor="start" fill="#2c2c62" stroke="#2c2c62" stroke-width="0.25" letter-spacing="0.25">SW</text>
<text x="194.4" y="409.8" font-size="13" font-family="'DejaVu Sans Condensed', 'Liberation Sans', sans-serif" text-anchor="start" fill="#2c2c62" stroke="#2c2c62" stroke-width="0.25" letter-spacing="0.25">S</text>
<text x="194.4" y="422.8" font-size="13" font-family="'DejaVu Sans Condensed', 'Liberation Sans', sans-serif" text-anchor="start" fill="#2c2c62" stroke="#2c2c62" stroke-width="0.25" letter-spacing="0.25">SE</text>
<text x="194.4" y="435.8" font-size="13" font-family="'DejaVu Sans Condensed', 'Liberation Sans', sans-serif" text-anchor="start" fill="#2c2c62" stroke="#2c2c62" stroke-width="0.25" letter-spacing="0.25">E</text>
<text x="194.4" y="448.8" font-size="13" font-family="'DejaVu Sans Condensed', 'Liberation Sans', sans-serif" text-anchor="start" fill="#2c2c62" stroke="#2c2c62" stroke-width="0.25" letter-spacing="0.25">NE</text>
<text x="194.4" y="461.8" font-size="13" font-family="'DejaVu Sans Condensed', 'Liberation Sans', sans-serif" text-anchor="start" fill="#2c2c62" stroke="#2c2c62" stroke-width="0.25" letter-spacing="0.25">N</text>
<text x="226.5" y="479.3" font-size="13" font-family="'DejaVu Sans', 'Liberation Sans', sans-serif" text-anchor="middle" fill="#2c2c62" stroke="#2c2c62" stroke-width="0.25" >10</text>
<text x="274.5" y="479.3" font-size="13" font-family="'DejaVu Sans', 'Liberation Sans', sans-serif" text-anchor="middle" fill="#2c2c62" stroke="#2c2c62" stroke-width="0.25" >11</text>
<text x="322.5" y="479.3" font-size="13" font-family="'DejaVu Sans', 'Liberation Sans', sans-serif" text-anchor="middle" fill="#2c2c62" stroke="#2c2c62" stroke-width="0.25" >N</text>
<text x="370.5" y="479.3" font-size="13" font-family="'DejaVu Sans', 'Liberation Sans', sans-serif" text-anchor="middle" fill="#2c2c62" stroke="#2c2c62" stroke-width="0.25" >1</text>
<text x="418.5" y="479.3" font-size="13" font-family="'DejaVu Sans', 'Liberation Sans', sans-serif" text-anchor="middle" fill="#2c2c62" stroke="#2c2c62" stroke-width="0.25" >2</text>
<text x="462.5" y="479.3" font-size="13" font-family="'DejaVu Sans', 'Liberation Sans', sans-serif" text-anchor="middle" fill="#2c2c62" stroke="#2c2c62" stroke-width="0.25" >3</text>
<text x="506.5" y="479.3" font-size="13" font-family="'DejaVu Sans', 'Liberation Sans', sans-serif" text-anchor="middle" fill="#2c2c62" stroke="#2c2c62" stroke-width="0.25" >4</text>
<text x="550.5" y="479.3" font-size="13" font-family="'DejaVu Sans', 'Liberation Sans', sans-serif" text-anchor="middle" fill="#2c2c62" stroke="#2c2c62" stroke-width="0.25" >5</text>
<text x="594.5" y="479.3" font-size="13" font-family="'DejaVu Sans', 'Liberation Sans', sans-serif" text-anchor="middle" fill="#2c2c62" stroke="#2c2c62" stroke-width="0.25" >6</text>
<text x="638.5" y="479.3" font-size="13" font-family="'DejaVu Sans', 'Liberation Sans', sans-serif" text-anchor="middle" fill="#2c2c62" stroke="#2c2c62" stroke-width="0.25" >7</text>
<text x="682.5" y="479.3" font-size="13" font-family="'DejaVu Sans', 'Liberation Sans', sans-serif" text-anchor="middle" fill="#2c2c62" stroke="#2c2c62" stroke-width="0.25" >8</text>
<text x="726.5" y="479.3" font-size="13" font-family="'DejaVu Sans', 'Liberation Sans', sans-serif" text-anchor="middle" fill="#2c2c62" stroke="#2c2c62" stroke-width="0.25" >9</text>
<text x="770.5" y="479.3" font-size="13" font-family="'DejaVu Sans', 'Liberation Sans', sans-serif" text-anchor="middle" fill="#2c2c62" stroke="#2c2c62" stroke-width="0.25" >10</text>
</svg>
<div class="cap" style="top:149px;letter-spacing:0.07px">Top Chart:  Apr 30, 2009  to  May 6, 2009</div>
<div class="cap" style="top:323px;letter-spacing:0.08px">Middle Chart:  May 6, 2009 – 10:00 AM  to  10:00 PM</div>
<div class="cap" style="top:494px">Bottom Chart:  May 6, 2009 – 10:00 AM  to  10:00 PM</div>
</body></html>
